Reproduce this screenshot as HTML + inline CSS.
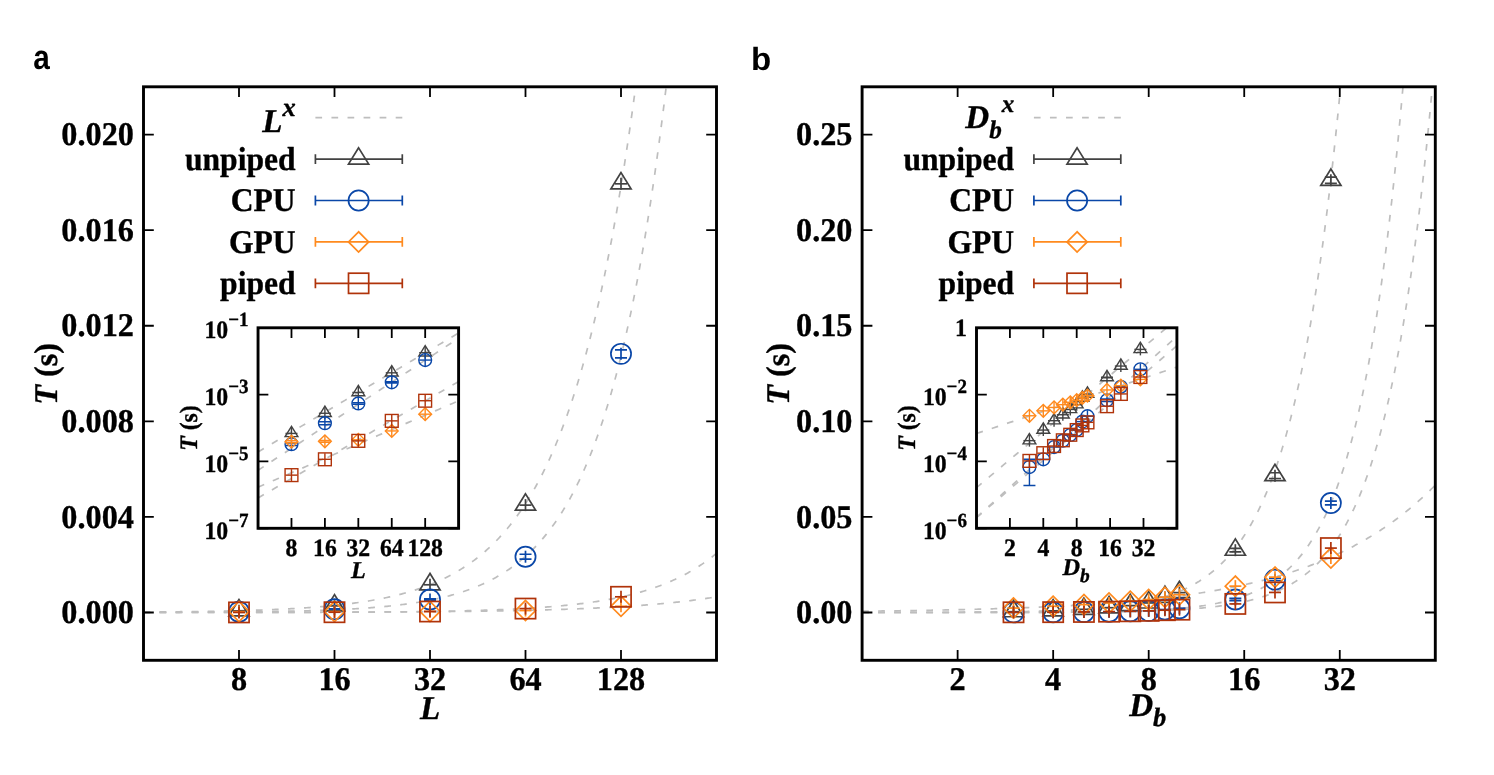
<!DOCTYPE html>
<html><head><meta charset="utf-8"><title>figure</title>
<style>html,body{margin:0;padding:0;background:#fff;overflow:hidden;}svg{display:block;will-change:transform;text-rendering:geometricPrecision;}text{font-family:"Liberation Serif",serif;}</style></head>
<body>

<svg width="1494" height="775" viewBox="0 0 1494 775">
<rect width="1494" height="775" fill="#fff"/>

<clipPath id="c0"><rect x="143.5" y="86.8" width="573" height="573.5"/></clipPath>
<g font-family='"Liberation Serif", serif' font-weight="bold" fill="#000" stroke="#000" stroke-width="0.35" stroke-linejoin="round">
<text transform="translate(133.9 623.21) scale(0.9750 1)" font-size="33.1" text-anchor="end"  >0.000</text>
<text transform="translate(133.9 527.62) scale(0.9750 1)" font-size="33.1" text-anchor="end"  >0.004</text>
<text transform="translate(133.9 432.04) scale(0.9750 1)" font-size="33.1" text-anchor="end"  >0.008</text>
<text transform="translate(133.9 336.46) scale(0.9750 1)" font-size="33.1" text-anchor="end"  >0.012</text>
<text transform="translate(133.9 240.87) scale(0.9750 1)" font-size="33.1" text-anchor="end"  >0.016</text>
<text transform="translate(133.9 145.29) scale(0.9750 1)" font-size="33.1" text-anchor="end"  >0.020</text>
<text transform="translate(239 689.8) scale(0.9750 1)" font-size="33.1" text-anchor="middle"  >8</text>
<text transform="translate(334.5 689.8) scale(0.9750 1)" font-size="33.1" text-anchor="middle"  >16</text>
<text transform="translate(430 689.8) scale(0.9750 1)" font-size="33.1" text-anchor="middle"  >32</text>
<text transform="translate(525.5 689.8) scale(0.9750 1)" font-size="33.1" text-anchor="middle"  >64</text>
<text transform="translate(621 689.8) scale(0.9750 1)" font-size="33.1" text-anchor="middle"  >128</text>
<text transform="translate(430 719.3) scale(1.0000 1)" font-size="33.1" text-anchor="middle" font-style="italic" >L</text>
<text transform="translate(57.2 373.95) rotate(-90) scale(0.9750 1)" font-size="33.1" text-anchor="middle"  ><tspan font-style="italic">T</tspan> (s)</text>
</g>
<text transform="translate(33.2 69.3) scale(0.87 1)" style="font-family:'Liberation Sans',sans-serif;font-weight:bold" font-size="34.2">a</text>
<g stroke="#bebebe" stroke-width="1.7" fill="none" stroke-dasharray="6.7 9.36"><path d="M143.5 612.05 L144.93 612.04 L146.37 612.03 L147.8 612.02 L149.23 612.01 L150.66 612 L152.09 611.99 L153.53 611.97 L154.96 611.96 L156.39 611.95 L157.82 611.94 L159.26 611.93 L160.69 611.92 L162.12 611.91 L163.56 611.89 L164.99 611.88 L166.42 611.87 L167.85 611.85 L169.28 611.84 L170.72 611.83 L172.15 611.81 L173.58 611.8 L175.02 611.78 L176.45 611.77 L177.88 611.75 L179.31 611.74 L180.75 611.72 L182.18 611.7 L183.61 611.69 L185.04 611.67 L186.47 611.65 L187.91 611.64 L189.34 611.62 L190.77 611.6 L192.2 611.58 L193.64 611.56 L195.07 611.54 L196.5 611.52 L197.94 611.5 L199.37 611.48 L200.8 611.46 L202.23 611.44 L203.66 611.42 L205.1 611.39 L206.53 611.37 L207.96 611.35 L209.39 611.32 L210.83 611.3 L212.26 611.27 L213.69 611.25 L215.12 611.22 L216.56 611.19 L217.99 611.17 L219.42 611.14 L220.86 611.11 L222.29 611.08 L223.72 611.05 L225.15 611.02 L226.59 610.99 L228.02 610.96 L229.45 610.93 L230.88 610.9 L232.31 610.86 L233.75 610.83 L235.18 610.79 L236.61 610.76 L238.05 610.72 L239.48 610.69 L240.91 610.65 L242.34 610.61 L243.77 610.57 L245.21 610.53 L246.64 610.49 L248.07 610.45 L249.5 610.4 L250.94 610.36 L252.37 610.32 L253.8 610.27 L255.23 610.22 L256.67 610.18 L258.1 610.13 L259.53 610.08 L260.96 610.03 L262.4 609.98 L263.83 609.93 L265.26 609.87 L266.69 609.82 L268.13 609.76 L269.56 609.71 L270.99 609.65 L272.43 609.59 L273.86 609.53 L275.29 609.47 L276.72 609.4 L278.15 609.34 L279.59 609.27 L281.02 609.21 L282.45 609.14 L283.88 609.07 L285.32 609 L286.75 608.92 L288.18 608.85 L289.62 608.78 L291.05 608.7 L292.48 608.62 L293.91 608.54 L295.35 608.46 L296.78 608.37 L298.21 608.29 L299.64 608.2 L301.07 608.11 L302.51 608.02 L303.94 607.93 L305.37 607.83 L306.8 607.73 L308.24 607.64 L309.67 607.54 L311.1 607.43 L312.53 607.33 L313.97 607.22 L315.4 607.11 L316.83 607 L318.26 606.88 L319.7 606.77 L321.13 606.65 L322.56 606.53 L324 606.4 L325.43 606.28 L326.86 606.15 L328.29 606.02 L329.73 605.88 L331.16 605.75 L332.59 605.61 L334.02 605.46 L335.45 605.32 L336.89 605.17 L338.32 605.02 L339.75 604.86 L341.18 604.7 L342.62 604.54 L344.05 604.38 L345.48 604.21 L346.91 604.04 L348.35 603.86 L349.78 603.68 L351.21 603.5 L352.65 603.31 L354.08 603.12 L355.51 602.93 L356.94 602.73 L358.38 602.53 L359.81 602.32 L361.24 602.11 L362.67 601.9 L364.11 601.68 L365.54 601.45 L366.97 601.22 L368.4 600.99 L369.84 600.75 L371.27 600.51 L372.7 600.26 L374.13 600.01 L375.57 599.75 L377 599.49 L378.43 599.22 L379.86 598.94 L381.3 598.66 L382.73 598.37 L384.16 598.08 L385.59 597.78 L387.02 597.48 L388.46 597.17 L389.89 596.85 L391.32 596.53 L392.75 596.19 L394.19 595.86 L395.62 595.51 L397.05 595.16 L398.49 594.8 L399.92 594.44 L401.35 594.06 L402.78 593.68 L404.22 593.29 L405.65 592.89 L407.08 592.49 L408.51 592.07 L409.94 591.65 L411.38 591.22 L412.81 590.78 L414.24 590.33 L415.67 589.87 L417.11 589.4 L418.54 588.92 L419.97 588.43 L421.41 587.93 L422.84 587.43 L424.27 586.91 L425.7 586.38 L427.13 585.84 L428.57 585.28 L430 584.72 L431.43 584.15 L432.87 583.56 L434.3 582.96 L435.73 582.35 L437.16 581.73 L438.6 581.09 L440.03 580.44 L441.46 579.77 L442.89 579.1 L444.32 578.41 L445.76 577.7 L447.19 576.98 L448.62 576.24 L450.06 575.49 L451.49 574.73 L452.92 573.95 L454.35 573.15 L455.79 572.33 L457.22 571.5 L458.65 570.65 L460.08 569.79 L461.52 568.9 L462.95 568 L464.38 567.08 L465.81 566.14 L467.24 565.18 L468.68 564.2 L470.11 563.2 L471.54 562.18 L472.97 561.14 L474.41 560.08 L475.84 558.99 L477.27 557.88 L478.7 556.75 L480.14 555.6 L481.57 554.42 L483 553.22 L484.43 551.99 L485.87 550.74 L487.3 549.46 L488.73 548.16 L490.16 546.83 L491.6 545.47 L493.03 544.08 L494.46 542.66 L495.89 541.22 L497.33 539.74 L498.76 538.24 L500.19 536.7 L501.62 535.13 L503.06 533.53 L504.49 531.9 L505.92 530.23 L507.35 528.53 L508.79 526.79 L510.22 525.01 L511.65 523.2 L513.09 521.35 L514.52 519.47 L515.95 517.54 L517.38 515.58 L518.81 513.57 L520.25 511.52 L521.68 509.44 L523.11 507.3 L524.55 505.12 L525.98 502.9 L527.41 500.63 L528.84 498.32 L530.28 495.96 L531.71 493.54 L533.14 491.08 L534.57 488.57 L536.01 486.01 L537.44 483.39 L538.87 480.72 L540.3 477.99 L541.73 475.2 L543.17 472.36 L544.6 469.46 L546.03 466.5 L547.46 463.48 L548.9 460.4 L550.33 457.25 L551.76 454.04 L553.19 450.76 L554.63 447.41 L556.06 443.99 L557.49 440.51 L558.92 436.95 L560.36 433.31 L561.79 429.61 L563.22 425.82 L564.65 421.96 L566.09 418.02 L567.52 413.99 L568.95 409.88 L570.38 405.69 L571.82 401.41 L573.25 397.04 L574.68 392.58 L576.12 388.03 L577.55 383.39 L578.98 378.64 L580.41 373.8 L581.85 368.87 L583.28 363.82 L584.71 358.68 L586.14 353.42 L587.58 348.06 L589.01 342.59 L590.44 337 L591.87 331.3 L593.31 325.48 L594.74 319.54 L596.17 313.48 L597.6 307.29 L599.04 300.98 L600.47 294.53 L601.9 287.95 L603.33 281.24 L604.77 274.38 L606.2 267.38 L607.63 260.24 L609.06 252.95 L610.49 245.51 L611.93 237.92 L613.36 230.16 L614.79 222.25 L616.23 214.18 L617.66 205.93 L619.09 197.52 L620.52 188.93 L621.95 180.17 L623.39 171.22 L624.82 162.09 L626.25 152.77 L627.68 143.25 L629.12 133.54 L630.55 123.63 L631.98 113.52 L633.41 103.19 L634.85 92.65 L636.28 81.89 L637.71 70.91 L639.14 59.7 L640.58 48.26 L642.01 36.59" clip-path="url(#c0)"/><path d="M143.5 612.38 L144.93 612.38 L146.37 612.37 L147.8 612.37 L149.23 612.37 L150.66 612.36 L152.09 612.36 L153.53 612.36 L154.96 612.35 L156.39 612.35 L157.82 612.35 L159.26 612.34 L160.69 612.34 L162.12 612.33 L163.56 612.33 L164.99 612.33 L166.42 612.32 L167.85 612.32 L169.28 612.31 L170.72 612.31 L172.15 612.3 L173.58 612.3 L175.02 612.29 L176.45 612.29 L177.88 612.28 L179.31 612.28 L180.75 612.27 L182.18 612.27 L183.61 612.26 L185.04 612.26 L186.47 612.25 L187.91 612.25 L189.34 612.24 L190.77 612.23 L192.2 612.23 L193.64 612.22 L195.07 612.21 L196.5 612.21 L197.94 612.2 L199.37 612.19 L200.8 612.19 L202.23 612.18 L203.66 612.17 L205.1 612.16 L206.53 612.16 L207.96 612.15 L209.39 612.14 L210.83 612.13 L212.26 612.12 L213.69 612.11 L215.12 612.1 L216.56 612.09 L217.99 612.08 L219.42 612.08 L220.86 612.07 L222.29 612.05 L223.72 612.04 L225.15 612.03 L226.59 612.02 L228.02 612.01 L229.45 612 L230.88 611.99 L232.31 611.98 L233.75 611.96 L235.18 611.95 L236.61 611.94 L238.05 611.93 L239.48 611.91 L240.91 611.9 L242.34 611.88 L243.77 611.87 L245.21 611.86 L246.64 611.84 L248.07 611.83 L249.5 611.81 L250.94 611.79 L252.37 611.78 L253.8 611.76 L255.23 611.74 L256.67 611.73 L258.1 611.71 L259.53 611.69 L260.96 611.67 L262.4 611.65 L263.83 611.63 L265.26 611.61 L266.69 611.59 L268.13 611.57 L269.56 611.55 L270.99 611.52 L272.43 611.5 L273.86 611.48 L275.29 611.46 L276.72 611.43 L278.15 611.41 L279.59 611.38 L281.02 611.35 L282.45 611.33 L283.88 611.3 L285.32 611.27 L286.75 611.24 L288.18 611.22 L289.62 611.19 L291.05 611.16 L292.48 611.12 L293.91 611.09 L295.35 611.06 L296.78 611.03 L298.21 610.99 L299.64 610.96 L301.07 610.92 L302.51 610.89 L303.94 610.85 L305.37 610.81 L306.8 610.77 L308.24 610.73 L309.67 610.69 L311.1 610.65 L312.53 610.6 L313.97 610.56 L315.4 610.52 L316.83 610.47 L318.26 610.42 L319.7 610.38 L321.13 610.33 L322.56 610.28 L324 610.22 L325.43 610.17 L326.86 610.12 L328.29 610.06 L329.73 610.01 L331.16 609.95 L332.59 609.89 L334.02 609.83 L335.45 609.77 L336.89 609.71 L338.32 609.64 L339.75 609.57 L341.18 609.51 L342.62 609.44 L344.05 609.37 L345.48 609.29 L346.91 609.22 L348.35 609.15 L349.78 609.07 L351.21 608.99 L352.65 608.91 L354.08 608.82 L355.51 608.74 L356.94 608.65 L358.38 608.56 L359.81 608.47 L361.24 608.38 L362.67 608.29 L364.11 608.19 L365.54 608.09 L366.97 607.99 L368.4 607.88 L369.84 607.78 L371.27 607.67 L372.7 607.56 L374.13 607.44 L375.57 607.32 L377 607.21 L378.43 607.08 L379.86 606.96 L381.3 606.83 L382.73 606.7 L384.16 606.57 L385.59 606.43 L387.02 606.29 L388.46 606.15 L389.89 606 L391.32 605.85 L392.75 605.7 L394.19 605.54 L395.62 605.38 L397.05 605.21 L398.49 605.05 L399.92 604.87 L401.35 604.7 L402.78 604.52 L404.22 604.33 L405.65 604.15 L407.08 603.95 L408.51 603.76 L409.94 603.56 L411.38 603.35 L412.81 603.14 L414.24 602.92 L415.67 602.7 L417.11 602.48 L418.54 602.24 L419.97 602.01 L421.41 601.77 L422.84 601.52 L424.27 601.27 L425.7 601.01 L427.13 600.74 L428.57 600.47 L430 600.19 L431.43 599.91 L432.87 599.62 L434.3 599.32 L435.73 599.02 L437.16 598.71 L438.6 598.39 L440.03 598.07 L441.46 597.73 L442.89 597.39 L444.32 597.05 L445.76 596.69 L447.19 596.32 L448.62 595.95 L450.06 595.57 L451.49 595.18 L452.92 594.78 L454.35 594.37 L455.79 593.96 L457.22 593.53 L458.65 593.09 L460.08 592.64 L461.52 592.19 L462.95 591.72 L464.38 591.24 L465.81 590.75 L467.24 590.25 L468.68 589.74 L470.11 589.21 L471.54 588.68 L472.97 588.13 L474.41 587.56 L475.84 586.99 L477.27 586.4 L478.7 585.8 L480.14 585.19 L481.57 584.56 L483 583.91 L484.43 583.25 L485.87 582.58 L487.3 581.89 L488.73 581.19 L490.16 580.46 L491.6 579.73 L493.03 578.97 L494.46 578.2 L495.89 577.41 L497.33 576.6 L498.76 575.77 L500.19 574.93 L501.62 574.06 L503.06 573.18 L504.49 572.27 L505.92 571.34 L507.35 570.4 L508.79 569.43 L510.22 568.43 L511.65 567.42 L513.09 566.38 L514.52 565.32 L515.95 564.23 L517.38 563.12 L518.81 561.98 L520.25 560.82 L521.68 559.63 L523.11 558.41 L524.55 557.16 L525.98 555.89 L527.41 554.59 L528.84 553.25 L530.28 551.89 L531.71 550.49 L533.14 549.06 L534.57 547.6 L536.01 546.11 L537.44 544.58 L538.87 543.01 L540.3 541.41 L541.73 539.77 L543.17 538.1 L544.6 536.39 L546.03 534.63 L547.46 532.84 L548.9 531 L550.33 529.13 L551.76 527.21 L553.19 525.24 L554.63 523.23 L556.06 521.18 L557.49 519.07 L558.92 516.92 L560.36 514.72 L561.79 512.47 L563.22 510.16 L564.65 507.81 L566.09 505.39 L567.52 502.93 L568.95 500.4 L570.38 497.82 L571.82 495.18 L573.25 492.48 L574.68 489.71 L576.12 486.89 L577.55 483.99 L578.98 481.03 L580.41 478 L581.85 474.91 L583.28 471.74 L584.71 468.5 L586.14 465.18 L587.58 461.79 L589.01 458.31 L590.44 454.76 L591.87 451.13 L593.31 447.41 L594.74 443.61 L596.17 439.72 L597.6 435.74 L599.04 431.67 L600.47 427.5 L601.9 423.24 L603.33 418.89 L604.77 414.43 L606.2 409.86 L607.63 405.2 L609.06 400.42 L610.49 395.54 L611.93 390.54 L613.36 385.43 L614.79 380.2 L616.23 374.85 L617.66 369.37 L619.09 363.77 L620.52 358.05 L621.95 352.19 L623.39 346.19 L624.82 340.06 L626.25 333.78 L627.68 327.36 L629.12 320.79 L630.55 314.08 L631.98 307.2 L633.41 300.17 L634.85 292.98 L636.28 285.62 L637.71 278.09 L639.14 270.39 L640.58 262.51 L642.01 254.45 L643.44 246.2 L644.88 237.77 L646.31 229.13 L647.74 220.3 L649.17 211.27 L650.61 202.03 L652.04 192.58 L653.47 182.91 L654.9 173.01 L656.34 162.89 L657.77 152.53 L659.2 141.94 L660.63 131.1 L662.07 120.02 L663.5 108.67 L664.93 97.07 L666.36 85.2 L667.8 73.05 L669.23 60.63 L670.66 47.92 L672.09 34.92" clip-path="url(#c0)"/><path d="M143.5 612.49 L144.93 612.49 L146.37 612.49 L147.8 612.49 L149.23 612.49 L150.66 612.49 L152.09 612.49 L153.53 612.49 L154.96 612.49 L156.39 612.49 L157.82 612.48 L159.26 612.48 L160.69 612.48 L162.12 612.48 L163.56 612.48 L164.99 612.48 L166.42 612.48 L167.85 612.48 L169.28 612.48 L170.72 612.48 L172.15 612.48 L173.58 612.48 L175.02 612.48 L176.45 612.48 L177.88 612.48 L179.31 612.48 L180.75 612.48 L182.18 612.48 L183.61 612.47 L185.04 612.47 L186.47 612.47 L187.91 612.47 L189.34 612.47 L190.77 612.47 L192.2 612.47 L193.64 612.47 L195.07 612.47 L196.5 612.47 L197.94 612.47 L199.37 612.47 L200.8 612.47 L202.23 612.46 L203.66 612.46 L205.1 612.46 L206.53 612.46 L207.96 612.46 L209.39 612.46 L210.83 612.46 L212.26 612.46 L213.69 612.46 L215.12 612.46 L216.56 612.45 L217.99 612.45 L219.42 612.45 L220.86 612.45 L222.29 612.45 L223.72 612.45 L225.15 612.45 L226.59 612.45 L228.02 612.45 L229.45 612.44 L230.88 612.44 L232.31 612.44 L233.75 612.44 L235.18 612.44 L236.61 612.44 L238.05 612.44 L239.48 612.43 L240.91 612.43 L242.34 612.43 L243.77 612.43 L245.21 612.43 L246.64 612.43 L248.07 612.42 L249.5 612.42 L250.94 612.42 L252.37 612.42 L253.8 612.42 L255.23 612.42 L256.67 612.41 L258.1 612.41 L259.53 612.41 L260.96 612.41 L262.4 612.41 L263.83 612.4 L265.26 612.4 L266.69 612.4 L268.13 612.4 L269.56 612.4 L270.99 612.39 L272.43 612.39 L273.86 612.39 L275.29 612.39 L276.72 612.38 L278.15 612.38 L279.59 612.38 L281.02 612.38 L282.45 612.37 L283.88 612.37 L285.32 612.37 L286.75 612.36 L288.18 612.36 L289.62 612.36 L291.05 612.36 L292.48 612.35 L293.91 612.35 L295.35 612.35 L296.78 612.34 L298.21 612.34 L299.64 612.34 L301.07 612.33 L302.51 612.33 L303.94 612.33 L305.37 612.32 L306.8 612.32 L308.24 612.31 L309.67 612.31 L311.1 612.31 L312.53 612.3 L313.97 612.3 L315.4 612.29 L316.83 612.29 L318.26 612.28 L319.7 612.28 L321.13 612.28 L322.56 612.27 L324 612.27 L325.43 612.26 L326.86 612.26 L328.29 612.25 L329.73 612.25 L331.16 612.24 L332.59 612.24 L334.02 612.23 L335.45 612.22 L336.89 612.22 L338.32 612.21 L339.75 612.21 L341.18 612.2 L342.62 612.19 L344.05 612.19 L345.48 612.18 L346.91 612.17 L348.35 612.17 L349.78 612.16 L351.21 612.15 L352.65 612.15 L354.08 612.14 L355.51 612.13 L356.94 612.12 L358.38 612.12 L359.81 612.11 L361.24 612.1 L362.67 612.09 L364.11 612.08 L365.54 612.07 L366.97 612.07 L368.4 612.06 L369.84 612.05 L371.27 612.04 L372.7 612.03 L374.13 612.02 L375.57 612.01 L377 612 L378.43 611.99 L379.86 611.98 L381.3 611.97 L382.73 611.96 L384.16 611.95 L385.59 611.93 L387.02 611.92 L388.46 611.91 L389.89 611.9 L391.32 611.89 L392.75 611.87 L394.19 611.86 L395.62 611.85 L397.05 611.83 L398.49 611.82 L399.92 611.81 L401.35 611.79 L402.78 611.78 L404.22 611.76 L405.65 611.75 L407.08 611.73 L408.51 611.72 L409.94 611.7 L411.38 611.68 L412.81 611.67 L414.24 611.65 L415.67 611.63 L417.11 611.62 L418.54 611.6 L419.97 611.58 L421.41 611.56 L422.84 611.54 L424.27 611.52 L425.7 611.5 L427.13 611.48 L428.57 611.46 L430 611.44 L431.43 611.42 L432.87 611.4 L434.3 611.37 L435.73 611.35 L437.16 611.33 L438.6 611.3 L440.03 611.28 L441.46 611.25 L442.89 611.23 L444.32 611.2 L445.76 611.17 L447.19 611.15 L448.62 611.12 L450.06 611.09 L451.49 611.06 L452.92 611.03 L454.35 611 L455.79 610.97 L457.22 610.94 L458.65 610.91 L460.08 610.88 L461.52 610.85 L462.95 610.81 L464.38 610.78 L465.81 610.74 L467.24 610.71 L468.68 610.67 L470.11 610.63 L471.54 610.59 L472.97 610.56 L474.41 610.52 L475.84 610.48 L477.27 610.43 L478.7 610.39 L480.14 610.35 L481.57 610.31 L483 610.26 L484.43 610.22 L485.87 610.17 L487.3 610.12 L488.73 610.07 L490.16 610.02 L491.6 609.97 L493.03 609.92 L494.46 609.87 L495.89 609.82 L497.33 609.76 L498.76 609.71 L500.19 609.65 L501.62 609.59 L503.06 609.53 L504.49 609.47 L505.92 609.41 L507.35 609.35 L508.79 609.28 L510.22 609.22 L511.65 609.15 L513.09 609.08 L514.52 609.01 L515.95 608.94 L517.38 608.87 L518.81 608.8 L520.25 608.72 L521.68 608.65 L523.11 608.57 L524.55 608.49 L525.98 608.41 L527.41 608.32 L528.84 608.24 L530.28 608.15 L531.71 608.06 L533.14 607.97 L534.57 607.88 L536.01 607.79 L537.44 607.69 L538.87 607.59 L540.3 607.49 L541.73 607.39 L543.17 607.29 L544.6 607.18 L546.03 607.08 L547.46 606.97 L548.9 606.85 L550.33 606.74 L551.76 606.62 L553.19 606.5 L554.63 606.38 L556.06 606.26 L557.49 606.13 L558.92 606 L560.36 605.87 L561.79 605.73 L563.22 605.6 L564.65 605.46 L566.09 605.31 L567.52 605.17 L568.95 605.02 L570.38 604.87 L571.82 604.71 L573.25 604.55 L574.68 604.39 L576.12 604.23 L577.55 604.06 L578.98 603.89 L580.41 603.71 L581.85 603.54 L583.28 603.35 L584.71 603.17 L586.14 602.98 L587.58 602.79 L589.01 602.59 L590.44 602.39 L591.87 602.18 L593.31 601.97 L594.74 601.76 L596.17 601.54 L597.6 601.32 L599.04 601.09 L600.47 600.86 L601.9 600.63 L603.33 600.39 L604.77 600.14 L606.2 599.89 L607.63 599.63 L609.06 599.37 L610.49 599.11 L611.93 598.83 L613.36 598.56 L614.79 598.27 L616.23 597.99 L617.66 597.69 L619.09 597.39 L620.52 597.08 L621.95 596.77 L623.39 596.45 L624.82 596.13 L626.25 595.8 L627.68 595.46 L629.12 595.11 L630.55 594.76 L631.98 594.4 L633.41 594.03 L634.85 593.66 L636.28 593.28 L637.71 592.89 L639.14 592.49 L640.58 592.08 L642.01 591.67 L643.44 591.25 L644.88 590.81 L646.31 590.37 L647.74 589.93 L649.17 589.47 L650.61 589 L652.04 588.52 L653.47 588.04 L654.9 587.54 L656.34 587.04 L657.77 586.52 L659.2 585.99 L660.63 585.46 L662.07 584.91 L663.5 584.35 L664.93 583.78 L666.36 583.2 L667.8 582.6 L669.23 581.99 L670.66 581.38 L672.09 580.75 L673.52 580.1 L674.96 579.44 L676.39 578.77 L677.82 578.09 L679.25 577.39 L680.69 576.68 L682.12 575.96 L683.55 575.21 L684.99 574.46 L686.42 573.69 L687.85 572.9 L689.28 572.1 L690.72 571.28 L692.15 570.44 L693.58 569.59 L695.01 568.72 L696.44 567.83 L697.88 566.93 L699.31 566 L700.74 565.06 L702.17 564.1 L703.61 563.12 L705.04 562.12 L706.47 561.09 L707.9 560.05 L709.34 558.99 L710.77 557.9 L712.2 556.8 L713.63 555.67 L715.07 554.52 L716.5 553.34" clip-path="url(#c0)"/><path d="M143.5 612.47 L144.93 612.47 L146.37 612.47 L147.8 612.47 L149.23 612.47 L150.66 612.46 L152.09 612.46 L153.53 612.46 L154.96 612.46 L156.39 612.46 L157.82 612.46 L159.26 612.46 L160.69 612.46 L162.12 612.46 L163.56 612.46 L164.99 612.46 L166.42 612.46 L167.85 612.46 L169.28 612.46 L170.72 612.45 L172.15 612.45 L173.58 612.45 L175.02 612.45 L176.45 612.45 L177.88 612.45 L179.31 612.45 L180.75 612.45 L182.18 612.45 L183.61 612.45 L185.04 612.45 L186.47 612.44 L187.91 612.44 L189.34 612.44 L190.77 612.44 L192.2 612.44 L193.64 612.44 L195.07 612.44 L196.5 612.44 L197.94 612.44 L199.37 612.44 L200.8 612.43 L202.23 612.43 L203.66 612.43 L205.1 612.43 L206.53 612.43 L207.96 612.43 L209.39 612.43 L210.83 612.43 L212.26 612.43 L213.69 612.42 L215.12 612.42 L216.56 612.42 L217.99 612.42 L219.42 612.42 L220.86 612.42 L222.29 612.42 L223.72 612.41 L225.15 612.41 L226.59 612.41 L228.02 612.41 L229.45 612.41 L230.88 612.41 L232.31 612.41 L233.75 612.4 L235.18 612.4 L236.61 612.4 L238.05 612.4 L239.48 612.4 L240.91 612.4 L242.34 612.39 L243.77 612.39 L245.21 612.39 L246.64 612.39 L248.07 612.39 L249.5 612.39 L250.94 612.38 L252.37 612.38 L253.8 612.38 L255.23 612.38 L256.67 612.38 L258.1 612.37 L259.53 612.37 L260.96 612.37 L262.4 612.37 L263.83 612.37 L265.26 612.36 L266.69 612.36 L268.13 612.36 L269.56 612.36 L270.99 612.36 L272.43 612.35 L273.86 612.35 L275.29 612.35 L276.72 612.35 L278.15 612.34 L279.59 612.34 L281.02 612.34 L282.45 612.34 L283.88 612.33 L285.32 612.33 L286.75 612.33 L288.18 612.33 L289.62 612.32 L291.05 612.32 L292.48 612.32 L293.91 612.31 L295.35 612.31 L296.78 612.31 L298.21 612.31 L299.64 612.3 L301.07 612.3 L302.51 612.3 L303.94 612.29 L305.37 612.29 L306.8 612.29 L308.24 612.28 L309.67 612.28 L311.1 612.28 L312.53 612.27 L313.97 612.27 L315.4 612.27 L316.83 612.26 L318.26 612.26 L319.7 612.25 L321.13 612.25 L322.56 612.25 L324 612.24 L325.43 612.24 L326.86 612.24 L328.29 612.23 L329.73 612.23 L331.16 612.22 L332.59 612.22 L334.02 612.21 L335.45 612.21 L336.89 612.21 L338.32 612.2 L339.75 612.2 L341.18 612.19 L342.62 612.19 L344.05 612.18 L345.48 612.18 L346.91 612.17 L348.35 612.17 L349.78 612.16 L351.21 612.16 L352.65 612.15 L354.08 612.15 L355.51 612.14 L356.94 612.14 L358.38 612.13 L359.81 612.12 L361.24 612.12 L362.67 612.11 L364.11 612.11 L365.54 612.1 L366.97 612.09 L368.4 612.09 L369.84 612.08 L371.27 612.08 L372.7 612.07 L374.13 612.06 L375.57 612.06 L377 612.05 L378.43 612.04 L379.86 612.03 L381.3 612.03 L382.73 612.02 L384.16 612.01 L385.59 612.01 L387.02 612 L388.46 611.99 L389.89 611.98 L391.32 611.97 L392.75 611.97 L394.19 611.96 L395.62 611.95 L397.05 611.94 L398.49 611.93 L399.92 611.93 L401.35 611.92 L402.78 611.91 L404.22 611.9 L405.65 611.89 L407.08 611.88 L408.51 611.87 L409.94 611.86 L411.38 611.85 L412.81 611.84 L414.24 611.83 L415.67 611.82 L417.11 611.81 L418.54 611.8 L419.97 611.79 L421.41 611.78 L422.84 611.77 L424.27 611.76 L425.7 611.75 L427.13 611.73 L428.57 611.72 L430 611.71 L431.43 611.7 L432.87 611.69 L434.3 611.67 L435.73 611.66 L437.16 611.65 L438.6 611.64 L440.03 611.62 L441.46 611.61 L442.89 611.6 L444.32 611.58 L445.76 611.57 L447.19 611.56 L448.62 611.54 L450.06 611.53 L451.49 611.51 L452.92 611.5 L454.35 611.48 L455.79 611.47 L457.22 611.45 L458.65 611.43 L460.08 611.42 L461.52 611.4 L462.95 611.39 L464.38 611.37 L465.81 611.35 L467.24 611.33 L468.68 611.32 L470.11 611.3 L471.54 611.28 L472.97 611.26 L474.41 611.24 L475.84 611.22 L477.27 611.21 L478.7 611.19 L480.14 611.17 L481.57 611.15 L483 611.13 L484.43 611.11 L485.87 611.08 L487.3 611.06 L488.73 611.04 L490.16 611.02 L491.6 611 L493.03 610.97 L494.46 610.95 L495.89 610.93 L497.33 610.9 L498.76 610.88 L500.19 610.86 L501.62 610.83 L503.06 610.81 L504.49 610.78 L505.92 610.75 L507.35 610.73 L508.79 610.7 L510.22 610.67 L511.65 610.65 L513.09 610.62 L514.52 610.59 L515.95 610.56 L517.38 610.53 L518.81 610.5 L520.25 610.47 L521.68 610.44 L523.11 610.41 L524.55 610.38 L525.98 610.35 L527.41 610.32 L528.84 610.28 L530.28 610.25 L531.71 610.22 L533.14 610.18 L534.57 610.15 L536.01 610.11 L537.44 610.07 L538.87 610.04 L540.3 610 L541.73 609.96 L543.17 609.93 L544.6 609.89 L546.03 609.85 L547.46 609.81 L548.9 609.77 L550.33 609.73 L551.76 609.68 L553.19 609.64 L554.63 609.6 L556.06 609.56 L557.49 609.51 L558.92 609.47 L560.36 609.42 L561.79 609.37 L563.22 609.33 L564.65 609.28 L566.09 609.23 L567.52 609.18 L568.95 609.13 L570.38 609.08 L571.82 609.03 L573.25 608.98 L574.68 608.93 L576.12 608.87 L577.55 608.82 L578.98 608.76 L580.41 608.71 L581.85 608.65 L583.28 608.59 L584.71 608.53 L586.14 608.47 L587.58 608.41 L589.01 608.35 L590.44 608.29 L591.87 608.23 L593.31 608.16 L594.74 608.1 L596.17 608.03 L597.6 607.96 L599.04 607.89 L600.47 607.83 L601.9 607.76 L603.33 607.68 L604.77 607.61 L606.2 607.54 L607.63 607.46 L609.06 607.39 L610.49 607.31 L611.93 607.23 L613.36 607.15 L614.79 607.07 L616.23 606.99 L617.66 606.91 L619.09 606.83 L620.52 606.74 L621.95 606.65 L623.39 606.57 L624.82 606.48 L626.25 606.39 L627.68 606.3 L629.12 606.2 L630.55 606.11 L631.98 606.01 L633.41 605.91 L634.85 605.82 L636.28 605.72 L637.71 605.61 L639.14 605.51 L640.58 605.41 L642.01 605.3 L643.44 605.19 L644.88 605.08 L646.31 604.97 L647.74 604.86 L649.17 604.74 L650.61 604.63 L652.04 604.51 L653.47 604.39 L654.9 604.27 L656.34 604.14 L657.77 604.02 L659.2 603.89 L660.63 603.76 L662.07 603.63 L663.5 603.5 L664.93 603.36 L666.36 603.22 L667.8 603.08 L669.23 602.94 L670.66 602.8 L672.09 602.65 L673.52 602.51 L674.96 602.36 L676.39 602.2 L677.82 602.05 L679.25 601.89 L680.69 601.73 L682.12 601.57 L683.55 601.41 L684.99 601.24 L686.42 601.07 L687.85 600.9 L689.28 600.73 L690.72 600.55 L692.15 600.37 L693.58 600.19 L695.01 600.01 L696.44 599.82 L697.88 599.63 L699.31 599.44 L700.74 599.24 L702.17 599.04 L703.61 598.84 L705.04 598.63 L706.47 598.43 L707.9 598.21 L709.34 598 L710.77 597.78 L712.2 597.56 L713.63 597.34 L715.07 597.11 L716.5 596.88" clip-path="url(#c0)"/></g>
<g stroke="#424242" stroke-width="1.7" fill="none"><path d="M239 599.55 L228.9 615.91 L249.1 615.91 Z"/><path d="M239 604.86 V616.86"/><path d="M233 610.86 H245"/></g><g stroke="#424242" stroke-width="1.7" fill="none"><path d="M334.5 594.58 L324.4 610.94 L344.6 610.94 Z"/><path d="M334.5 599.89 V611.89"/><path d="M328.5 605.89 H340.5"/></g><g stroke="#424242" stroke-width="1.7" fill="none"><path d="M430 573.48 L419.9 589.84 L440.1 589.84 Z"/><path d="M430 578.79 V590.79"/><path d="M424 584.79 H436"/></g><g stroke="#424242" stroke-width="1.7" fill="none"><path d="M525.5 493.81 L515.4 510.17 L535.6 510.17 Z"/><path d="M525.5 499.12 V511.12"/><path d="M519.5 505.12 H531.5"/></g><g stroke="#424242" stroke-width="1.7" fill="none"><path d="M621 172.51 L610.9 188.87 L631.1 188.87 Z"/><path d="M621 177.82 V189.82"/><path d="M615 183.82 H627"/></g><g stroke="#0a47a8" stroke-width="1.7" fill="none"><circle cx="239" cy="611.72" r="10.1"/><path d="M239 605.72 V617.72"/><path d="M233 611.72 H245"/></g><g stroke="#0a47a8" stroke-width="1.7" fill="none"><circle cx="334.5" cy="609.16" r="10.1"/><path d="M334.5 603.16 V615.16"/><path d="M328.5 608.8 H340.5 M328.5 609.52 H340.5"/></g><g stroke="#0a47a8" stroke-width="1.7" fill="none"><circle cx="430" cy="599.46" r="10.1"/><path d="M430 593.46 V605.46"/><path d="M424 598.74 H436 M424 600.18 H436"/></g><g stroke="#0a47a8" stroke-width="1.7" fill="none"><circle cx="525.5" cy="556.71" r="10.1"/><path d="M525.5 550.71 V562.71"/><path d="M519.5 554.27 H531.5 M519.5 559.15 H531.5"/></g><g stroke="#0a47a8" stroke-width="1.7" fill="none"><circle cx="621" cy="353.86" r="10.1"/><path d="M621 347.86 V359.86"/><path d="M615 349.92 H627 M615 357.8 H627"/></g><g stroke="#ff8a1e" stroke-width="1.7" fill="none"><path d="M239 601.48 L228.9 611.58 L239 621.68 L249.1 611.58 Z"/><path d="M239 605.58 V617.58"/><path d="M233 611.58 H245"/></g><g stroke="#ff8a1e" stroke-width="1.7" fill="none"><path d="M334.5 601.45 L324.4 611.55 L334.5 621.65 L344.6 611.55 Z"/><path d="M334.5 605.55 V617.55"/><path d="M328.5 611.55 H340.5"/></g><g stroke="#ff8a1e" stroke-width="1.7" fill="none"><path d="M430 601.34 L419.9 611.44 L430 621.54 L440.1 611.44 Z"/><path d="M430 605.44 V617.44"/><path d="M424 611.44 H436"/></g><g stroke="#ff8a1e" stroke-width="1.7" fill="none"><path d="M525.5 600.45 L515.4 610.55 L525.5 620.65 L535.6 610.55 Z"/><path d="M525.5 604.55 V616.55"/><path d="M519.5 610.55 H531.5"/></g><g stroke="#ff8a1e" stroke-width="1.7" fill="none"><path d="M621 596.2 L610.9 606.3 L621 616.4 L631.1 606.3 Z"/><path d="M621 600.3 V612.3"/><path d="M615 606.3 H627"/></g><g stroke="#b0330a" stroke-width="1.7" fill="none"><rect x="228.9" y="602.32" width="20.2" height="20.2"/><path d="M239 606.42 V618.42"/><path d="M233 612.42 H245"/></g><g stroke="#b0330a" stroke-width="1.7" fill="none"><rect x="324.4" y="602.13" width="20.2" height="20.2"/><path d="M334.5 606.23 V618.23"/><path d="M328.5 612.23 H340.5"/></g><g stroke="#b0330a" stroke-width="1.7" fill="none"><rect x="419.9" y="601.42" width="20.2" height="20.2"/><path d="M430 605.52 V617.52"/><path d="M424 611.52 H436"/></g><g stroke="#b0330a" stroke-width="1.7" fill="none"><rect x="515.4" y="598.49" width="20.2" height="20.2"/><path d="M525.5 602.59 V614.59"/><path d="M519.5 608.59 H531.5"/></g><g stroke="#b0330a" stroke-width="1.7" fill="none"><rect x="610.9" y="586.71" width="20.2" height="20.2"/><path d="M621 590.81 V602.81"/><path d="M615 596.81 H627"/></g>
<g stroke="#000" stroke-width="1.8" fill="none" stroke-linecap="butt"><path d="M239 660.3 v-10.3 M239 86.8 v10.3"/><path d="M334.5 660.3 v-10.3 M334.5 86.8 v10.3"/><path d="M430 660.3 v-10.3 M430 86.8 v10.3"/><path d="M525.5 660.3 v-10.3 M525.5 86.8 v10.3"/><path d="M621 660.3 v-10.3 M621 86.8 v10.3"/><path d="M143.5 612.51 h10.3 M716.5 612.51 h-10.3"/><path d="M143.5 516.92 h10.3 M716.5 516.92 h-10.3"/><path d="M143.5 421.34 h10.3 M716.5 421.34 h-10.3"/><path d="M143.5 325.76 h10.3 M716.5 325.76 h-10.3"/><path d="M143.5 230.17 h10.3 M716.5 230.17 h-10.3"/><path d="M143.5 134.59 h10.3 M716.5 134.59 h-10.3"/></g><rect x="143.5" y="86.8" width="573" height="573.5" fill="none" stroke="#000" stroke-width="2.9"/>
<path d="M315.4 117.6 H402.3" stroke="#bebebe" stroke-width="1.7" stroke-dasharray="6.7 9.36" fill="none"/>
<g stroke="#424242" stroke-width="1.7" fill="none"><path d="M315.4 159.1 H402.3 M315.4 154.2 v9.8 M402.3 154.2 v9.8"/></g>
<g stroke="#424242" stroke-width="1.7" fill="none"><path d="M358.6 147.79 L348.5 164.15 L368.7 164.15 Z"/></g>
<g stroke="#0a47a8" stroke-width="1.7" fill="none"><path d="M315.4 200.5 H402.3 M315.4 195.6 v9.8 M402.3 195.6 v9.8"/></g>
<g stroke="#0a47a8" stroke-width="1.7" fill="none"><circle cx="358.6" cy="200.5" r="10.1"/></g>
<g stroke="#ff8a1e" stroke-width="1.7" fill="none"><path d="M315.4 241.9 H402.3 M315.4 237 v9.8 M402.3 237 v9.8"/></g>
<g stroke="#ff8a1e" stroke-width="1.7" fill="none"><path d="M358.6 231.8 L348.5 241.9 L358.6 252 L368.7 241.9 Z"/></g>
<g stroke="#b0330a" stroke-width="1.7" fill="none"><path d="M315.4 283.3 H402.3 M315.4 278.4 v9.8 M402.3 278.4 v9.8"/></g>
<g stroke="#b0330a" stroke-width="1.7" fill="none"><rect x="348.5" y="273.2" width="20.2" height="20.2"/></g>
<g font-family='"Liberation Serif", serif' font-weight="bold" fill="#000" stroke="#000" stroke-width="0.35" stroke-linejoin="round">
<text transform="translate(295.7 131.8) scale(1.0000 1)" font-size="33.1" text-anchor="end" font-style="italic" >L<tspan font-size="26.48" dy="-15.5">x</tspan></text>
<text transform="translate(295.6 170) scale(0.9550 1)" font-size="33.1" text-anchor="end"  >unpiped</text>
<text transform="translate(295.6 211.4) scale(0.9550 1)" font-size="33.1" text-anchor="end"  >CPU</text>
<text transform="translate(295.6 252.8) scale(0.9550 1)" font-size="33.1" text-anchor="end"  >GPU</text>
<text transform="translate(295.6 294.2) scale(0.9550 1)" font-size="33.1" text-anchor="end"  >piped</text>
</g>
<clipPath id="ci0"><rect x="258.05" y="327.8" width="200.55" height="200.5"/></clipPath>
<g font-family='"Liberation Serif", serif' font-weight="bold" fill="#000" stroke="#000" stroke-width="0.35" stroke-linejoin="round">
<text transform="translate(248.45 338.2) scale(0.9450 1)" font-size="25.1" text-anchor="end"  >10<tspan font-size="20.08" dy="-11.8">−1</tspan></text>
<text transform="translate(248.45 405.03) scale(0.9450 1)" font-size="25.1" text-anchor="end"  >10<tspan font-size="20.08" dy="-11.8">−3</tspan></text>
<text transform="translate(248.45 471.87) scale(0.9450 1)" font-size="25.1" text-anchor="end"  >10<tspan font-size="20.08" dy="-11.8">−5</tspan></text>
<text transform="translate(248.45 538.7) scale(0.9450 1)" font-size="25.1" text-anchor="end"  >10<tspan font-size="20.08" dy="-11.8">−7</tspan></text>
<text transform="translate(291.48 555.9) scale(0.9450 1)" font-size="25.1" text-anchor="middle"  >8</text>
<text transform="translate(324.9 555.9) scale(0.9450 1)" font-size="25.1" text-anchor="middle"  >16</text>
<text transform="translate(358.33 555.9) scale(0.9450 1)" font-size="25.1" text-anchor="middle"  >32</text>
<text transform="translate(391.75 555.9) scale(0.9450 1)" font-size="25.1" text-anchor="middle"  >64</text>
<text transform="translate(425.18 555.9) scale(0.9450 1)" font-size="25.1" text-anchor="middle"  >128</text>
<text transform="translate(358.33 577.8) scale(1.0000 1)" font-size="24.22" text-anchor="middle" font-style="italic" >L</text>
<text transform="translate(196.85 428.05) rotate(-90) scale(0.9450 1)" font-size="25.1" text-anchor="middle"  ><tspan font-style="italic">T</tspan> (s)</text>
</g>
<g stroke="#bebebe" stroke-width="1.7" fill="none" stroke-dasharray="6.7 9.36"><path d="M258.05 451.9 L261.39 449.91 L264.74 447.93 L268.08 445.95 L271.42 443.97 L274.76 441.99 L278.11 440 L281.45 438.02 L284.79 436.04 L288.13 434.06 L291.48 432.08 L294.82 430.1 L298.16 428.11 L301.5 426.13 L304.85 424.15 L308.19 422.17 L311.53 420.19 L314.87 418.21 L318.22 416.22 L321.56 414.24 L324.9 412.26 L328.24 410.28 L331.59 408.3 L334.93 406.32 L338.27 404.33 L341.61 402.35 L344.96 400.37 L348.3 398.39 L351.64 396.41 L354.98 394.43 L358.33 392.44 L361.67 390.46 L365.01 388.48 L368.35 386.5 L371.7 384.52 L375.04 382.54 L378.38 380.55 L381.72 378.57 L385.06 376.59 L388.41 374.61 L391.75 372.63 L395.09 370.65 L398.44 368.66 L401.78 366.68 L405.12 364.7 L408.46 362.72 L411.81 360.74 L415.15 358.76 L418.49 356.77 L421.83 354.79 L425.18 352.81 L428.52 350.83 L431.86 348.85 L435.2 346.86 L438.55 344.88 L441.89 342.9 L445.23 340.92 L448.57 338.94 L451.92 336.96 L455.26 334.97 L458.6 332.99" clip-path="url(#ci0)"/><path d="M258.05 470.34 L261.39 468.14 L264.74 465.94 L268.08 463.74 L271.42 461.53 L274.76 459.33 L278.11 457.13 L281.45 454.92 L284.79 452.72 L288.13 450.52 L291.48 448.31 L294.82 446.11 L298.16 443.91 L301.5 441.71 L304.85 439.5 L308.19 437.3 L311.53 435.1 L314.87 432.89 L318.22 430.69 L321.56 428.49 L324.9 426.28 L328.24 424.08 L331.59 421.88 L334.93 419.68 L338.27 417.47 L341.61 415.27 L344.96 413.07 L348.3 410.86 L351.64 408.66 L354.98 406.46 L358.33 404.25 L361.67 402.05 L365.01 399.85 L368.35 397.65 L371.7 395.44 L375.04 393.24 L378.38 391.04 L381.72 388.83 L385.06 386.63 L388.41 384.43 L391.75 382.22 L395.09 380.02 L398.44 377.82 L401.78 375.62 L405.12 373.41 L408.46 371.21 L411.81 369.01 L415.15 366.8 L418.49 364.6 L421.83 362.4 L425.18 360.19 L428.52 357.99 L431.86 355.79 L435.2 353.59 L438.55 351.38 L441.89 349.18 L445.23 346.98 L448.57 344.77 L451.92 342.57 L455.26 340.37 L458.6 338.16" clip-path="url(#ci0)"/><path d="M258.05 497.96 L261.39 496.02 L264.74 494.08 L268.08 492.14 L271.42 490.2 L274.76 488.26 L278.11 486.31 L281.45 484.37 L284.79 482.43 L288.13 480.49 L291.48 478.55 L294.82 476.61 L298.16 474.67 L301.5 472.72 L304.85 470.78 L308.19 468.84 L311.53 466.9 L314.87 464.96 L318.22 463.02 L321.56 461.08 L324.9 459.13 L328.24 457.19 L331.59 455.25 L334.93 453.31 L338.27 451.37 L341.61 449.43 L344.96 447.49 L348.3 445.54 L351.64 443.6 L354.98 441.66 L358.33 439.72 L361.67 437.78 L365.01 435.84 L368.35 433.89 L371.7 431.95 L375.04 430.01 L378.38 428.07 L381.72 426.13 L385.06 424.19 L388.41 422.25 L391.75 420.3 L395.09 418.36 L398.44 416.42 L401.78 414.48 L405.12 412.54 L408.46 410.6 L411.81 408.66 L415.15 406.71 L418.49 404.77 L421.83 402.83 L425.18 400.89 L428.52 398.95 L431.86 397.01 L435.2 395.07 L438.55 393.12 L441.89 391.18 L445.23 389.24 L448.57 387.3 L451.92 385.36 L455.26 383.42 L458.6 381.48" clip-path="url(#ci0)"/><path d="M258.05 487.17 L261.39 485.73 L264.74 484.29 L268.08 482.85 L271.42 481.41 L274.76 479.97 L278.11 478.53 L281.45 477.09 L284.79 475.65 L288.13 474.21 L291.48 472.77 L294.82 471.33 L298.16 469.89 L301.5 468.45 L304.85 467.01 L308.19 465.57 L311.53 464.13 L314.87 462.69 L318.22 461.25 L321.56 459.82 L324.9 458.38 L328.24 456.94 L331.59 455.5 L334.93 454.06 L338.27 452.62 L341.61 451.18 L344.96 449.74 L348.3 448.3 L351.64 446.86 L354.98 445.42 L358.33 443.98 L361.67 442.54 L365.01 441.1 L368.35 439.66 L371.7 438.22 L375.04 436.78 L378.38 435.34 L381.72 433.9 L385.06 432.46 L388.41 431.03 L391.75 429.59 L395.09 428.15 L398.44 426.71 L401.78 425.27 L405.12 423.83 L408.46 422.39 L411.81 420.95 L415.15 419.51 L418.49 418.07 L421.83 416.63 L425.18 415.19 L428.52 413.75 L431.86 412.31 L435.2 410.87 L438.55 409.43 L441.89 407.99 L445.23 406.55 L448.57 405.11 L451.92 403.67 L455.26 402.24 L458.6 400.8" clip-path="url(#ci0)"/></g>
<g stroke="#424242" stroke-width="1.4" fill="none"><path d="M291.48 426.27 L285.08 436.64 L297.88 436.64 Z"/><path d="M291.48 427.44 V439.44"/><path d="M285.48 433.44 H297.48"/></g><g stroke="#424242" stroke-width="1.4" fill="none"><path d="M324.9 406.1 L318.5 416.46 L331.3 416.46 Z"/><path d="M324.9 407.26 V419.26"/><path d="M318.9 413.26 H330.9"/></g><g stroke="#424242" stroke-width="1.4" fill="none"><path d="M358.33 385.31 L351.93 395.68 L364.73 395.68 Z"/><path d="M358.33 386.48 V398.48"/><path d="M352.33 392.48 H364.33"/></g><g stroke="#424242" stroke-width="1.4" fill="none"><path d="M391.75 365.66 L385.35 376.02 L398.15 376.02 Z"/><path d="M391.75 366.82 V378.82"/><path d="M385.75 372.82 H397.75"/></g><g stroke="#424242" stroke-width="1.4" fill="none"><path d="M425.18 345.57 L418.78 355.93 L431.58 355.93 Z"/><path d="M425.18 346.73 V358.73"/><path d="M419.18 352.73 H431.18"/></g><g stroke="#0a47a8" stroke-width="1.4" fill="none"><circle cx="291.48" cy="444.14" r="6.4"/><path d="M291.48 438.14 V450.14"/><path d="M285.48 442.96 H297.48 M285.48 445.43 H297.48"/></g><g stroke="#0a47a8" stroke-width="1.4" fill="none"><circle cx="324.9" cy="423.17" r="6.4"/><path d="M324.9 417.17 V429.17"/><path d="M318.9 421.69 H330.9 M318.9 424.81 H330.9"/></g><g stroke="#0a47a8" stroke-width="1.4" fill="none"><circle cx="358.33" cy="403.42" r="6.4"/><path d="M358.33 397.42 V409.42"/><path d="M352.33 402.64 H364.33 M352.33 404.24 H364.33"/></g><g stroke="#0a47a8" stroke-width="1.4" fill="none"><circle cx="391.75" cy="382.33" r="6.4"/><path d="M391.75 376.33 V388.33"/><path d="M385.75 381.71 H397.75 M385.75 382.97 H397.75"/></g><g stroke="#0a47a8" stroke-width="1.4" fill="none"><circle cx="425.18" cy="360.07" r="6.4"/><path d="M425.18 354.07 V366.07"/><path d="M419.18 360.07 H431.18"/></g><g stroke="#ff8a1e" stroke-width="1.4" fill="none"><path d="M291.48 435.32 L285.08 441.72 L291.48 448.12 L297.88 441.72 Z"/><path d="M291.48 435.72 V447.72"/><path d="M285.48 440.74 H297.48 M285.48 442.76 H297.48"/></g><g stroke="#ff8a1e" stroke-width="1.4" fill="none"><path d="M324.9 434.95 L318.5 441.35 L324.9 447.75 L331.3 441.35 Z"/><path d="M324.9 435.35 V447.35"/><path d="M318.9 440.5 H330.9 M318.9 442.25 H330.9"/></g><g stroke="#ff8a1e" stroke-width="1.4" fill="none"><path d="M358.33 433.37 L351.93 439.77 L358.33 446.17 L364.73 439.77 Z"/><path d="M358.33 433.77 V445.77"/><path d="M352.33 439.77 H364.33"/></g><g stroke="#ff8a1e" stroke-width="1.4" fill="none"><path d="M391.75 424.53 L385.35 430.93 L391.75 437.33 L398.15 430.93 Z"/><path d="M391.75 424.93 V436.93"/><path d="M385.75 430.93 H397.75"/></g><g stroke="#ff8a1e" stroke-width="1.4" fill="none"><path d="M425.18 407.78 L418.78 414.18 L425.18 420.58 L431.58 414.18 Z"/><path d="M425.18 408.18 V420.18"/><path d="M419.18 414.18 H431.18"/></g><g stroke="#b0330a" stroke-width="1.4" fill="none"><rect x="285.08" y="468.73" width="12.8" height="12.8"/><path d="M291.48 469.13 V481.13"/><path d="M285.48 475.13 H297.48"/></g><g stroke="#b0330a" stroke-width="1.4" fill="none"><rect x="318.5" y="452.91" width="12.8" height="12.8"/><path d="M324.9 453.31 V465.31"/><path d="M318.9 459.31 H330.9"/></g><g stroke="#b0330a" stroke-width="1.4" fill="none"><rect x="351.93" y="434.45" width="12.8" height="12.8"/><path d="M358.33 434.85 V446.85"/><path d="M352.33 440.85 H364.33"/></g><g stroke="#b0330a" stroke-width="1.4" fill="none"><rect x="385.35" y="414.47" width="12.8" height="12.8"/><path d="M391.75 414.87 V426.87"/><path d="M385.75 420.87 H397.75"/></g><g stroke="#b0330a" stroke-width="1.4" fill="none"><rect x="418.78" y="394.33" width="12.8" height="12.8"/><path d="M425.18 394.73 V406.73"/><path d="M419.18 400.73 H431.18"/></g>
<g stroke="#000" stroke-width="1.8" fill="none" stroke-linecap="butt"><path d="M291.48 528.3 v-10.3 M291.48 327.8 v10.3"/><path d="M324.9 528.3 v-10.3 M324.9 327.8 v10.3"/><path d="M358.33 528.3 v-10.3 M358.33 327.8 v10.3"/><path d="M391.75 528.3 v-10.3 M391.75 327.8 v10.3"/><path d="M425.18 528.3 v-10.3 M425.18 327.8 v10.3"/><path d="M258.05 327.8 h10.3 M458.6 327.8 h-10.3"/><path d="M258.05 394.63 h10.3 M458.6 394.63 h-10.3"/><path d="M258.05 461.47 h10.3 M458.6 461.47 h-10.3"/><path d="M258.05 528.3 h10.3 M458.6 528.3 h-10.3"/></g><rect x="258.05" y="327.8" width="200.55" height="200.5" fill="none" stroke="#000" stroke-width="2.9"/>
<clipPath id="c1"><rect x="862.1" y="86.8" width="573.2" height="573.5"/></clipPath>
<g font-family='"Liberation Serif", serif' font-weight="bold" fill="#000" stroke="#000" stroke-width="0.35" stroke-linejoin="round">
<text transform="translate(852.5 623.21) scale(0.9750 1)" font-size="33.1" text-anchor="end"  >0.00</text>
<text transform="translate(852.5 527.62) scale(0.9750 1)" font-size="33.1" text-anchor="end"  >0.05</text>
<text transform="translate(852.5 432.04) scale(0.9750 1)" font-size="33.1" text-anchor="end"  >0.10</text>
<text transform="translate(852.5 336.46) scale(0.9750 1)" font-size="33.1" text-anchor="end"  >0.15</text>
<text transform="translate(852.5 240.88) scale(0.9750 1)" font-size="33.1" text-anchor="end"  >0.20</text>
<text transform="translate(852.5 145.29) scale(0.9750 1)" font-size="33.1" text-anchor="end"  >0.25</text>
<text transform="translate(957.63 689.8) scale(0.9750 1)" font-size="33.1" text-anchor="middle"  >2</text>
<text transform="translate(1053.17 689.8) scale(0.9750 1)" font-size="33.1" text-anchor="middle"  >4</text>
<text transform="translate(1148.7 689.8) scale(0.9750 1)" font-size="33.1" text-anchor="middle"  >8</text>
<text transform="translate(1244.23 689.8) scale(0.9750 1)" font-size="33.1" text-anchor="middle"  >16</text>
<text transform="translate(1339.77 689.8) scale(0.9750 1)" font-size="33.1" text-anchor="middle"  >32</text>
<text transform="translate(1147.7 715.5) scale(1.0000 1)" font-size="33.1" text-anchor="middle" font-style="italic" >D<tspan font-size="26.48" dy="10">b</tspan></text>
<text transform="translate(788.7 373.95) rotate(-90) scale(0.9750 1)" font-size="33.1" text-anchor="middle"  ><tspan font-style="italic">T</tspan> (s)</text>
</g>
<text transform="translate(751 69.7) scale(1.03 1)" style="font-family:'Liberation Sans',sans-serif;font-weight:bold" font-size="32.1">b</text>
<g stroke="#bebebe" stroke-width="1.7" fill="none" stroke-dasharray="6.7 9.36"><path d="M862.1 612.47 L863.53 612.47 L864.97 612.47 L866.4 612.47 L867.83 612.47 L869.26 612.47 L870.7 612.46 L872.13 612.46 L873.56 612.46 L875 612.46 L876.43 612.46 L877.86 612.46 L879.3 612.46 L880.73 612.45 L882.16 612.45 L883.6 612.45 L885.03 612.45 L886.46 612.45 L887.89 612.45 L889.33 612.44 L890.76 612.44 L892.19 612.44 L893.63 612.44 L895.06 612.44 L896.49 612.43 L897.92 612.43 L899.36 612.43 L900.79 612.43 L902.22 612.42 L903.66 612.42 L905.09 612.42 L906.52 612.42 L907.96 612.41 L909.39 612.41 L910.82 612.41 L912.25 612.41 L913.69 612.4 L915.12 612.4 L916.55 612.4 L917.99 612.39 L919.42 612.39 L920.85 612.39 L922.29 612.38 L923.72 612.38 L925.15 612.38 L926.59 612.37 L928.02 612.37 L929.45 612.36 L930.88 612.36 L932.32 612.36 L933.75 612.35 L935.18 612.35 L936.62 612.34 L938.05 612.34 L939.48 612.33 L940.91 612.33 L942.35 612.32 L943.78 612.32 L945.21 612.31 L946.65 612.31 L948.08 612.3 L949.51 612.29 L950.95 612.29 L952.38 612.28 L953.81 612.27 L955.25 612.27 L956.68 612.26 L958.11 612.25 L959.54 612.25 L960.98 612.24 L962.41 612.23 L963.84 612.22 L965.28 612.21 L966.71 612.21 L968.14 612.2 L969.58 612.19 L971.01 612.18 L972.44 612.17 L973.87 612.16 L975.31 612.15 L976.74 612.14 L978.17 612.13 L979.61 612.12 L981.04 612.11 L982.47 612.09 L983.9 612.08 L985.34 612.07 L986.77 612.06 L988.2 612.04 L989.64 612.03 L991.07 612.02 L992.5 612 L993.94 611.99 L995.37 611.97 L996.8 611.96 L998.24 611.94 L999.67 611.92 L1001.1 611.91 L1002.53 611.89 L1003.97 611.87 L1005.4 611.85 L1006.83 611.83 L1008.27 611.81 L1009.7 611.79 L1011.13 611.77 L1012.57 611.75 L1014 611.73 L1015.43 611.71 L1016.86 611.68 L1018.3 611.66 L1019.73 611.64 L1021.16 611.61 L1022.6 611.59 L1024.03 611.56 L1025.46 611.53 L1026.89 611.5 L1028.33 611.47 L1029.76 611.44 L1031.19 611.41 L1032.63 611.38 L1034.06 611.35 L1035.49 611.31 L1036.93 611.28 L1038.36 611.24 L1039.79 611.21 L1041.22 611.17 L1042.66 611.13 L1044.09 611.09 L1045.52 611.05 L1046.96 611.01 L1048.39 610.96 L1049.82 610.92 L1051.26 610.87 L1052.69 610.83 L1054.12 610.78 L1055.56 610.73 L1056.99 610.67 L1058.42 610.62 L1059.85 610.57 L1061.29 610.51 L1062.72 610.45 L1064.15 610.39 L1065.59 610.33 L1067.02 610.27 L1068.45 610.2 L1069.88 610.14 L1071.32 610.07 L1072.75 610 L1074.18 609.92 L1075.62 609.85 L1077.05 609.77 L1078.48 609.69 L1079.92 609.61 L1081.35 609.53 L1082.78 609.44 L1084.21 609.35 L1085.65 609.26 L1087.08 609.17 L1088.51 609.07 L1089.95 608.97 L1091.38 608.87 L1092.81 608.76 L1094.25 608.65 L1095.68 608.54 L1097.11 608.42 L1098.55 608.31 L1099.98 608.18 L1101.41 608.06 L1102.84 607.93 L1104.28 607.8 L1105.71 607.66 L1107.14 607.52 L1108.58 607.38 L1110.01 607.23 L1111.44 607.07 L1112.88 606.92 L1114.31 606.75 L1115.74 606.59 L1117.17 606.41 L1118.61 606.24 L1120.04 606.06 L1121.47 605.87 L1122.91 605.68 L1124.34 605.48 L1125.77 605.27 L1127.2 605.06 L1128.64 604.85 L1130.07 604.63 L1131.5 604.4 L1132.94 604.16 L1134.37 603.92 L1135.8 603.67 L1137.24 603.42 L1138.67 603.15 L1140.1 602.88 L1141.53 602.6 L1142.97 602.31 L1144.4 602.02 L1145.83 601.71 L1147.27 601.4 L1148.7 601.08 L1150.13 600.75 L1151.57 600.41 L1153 600.05 L1154.43 599.69 L1155.87 599.32 L1157.3 598.94 L1158.73 598.55 L1160.16 598.14 L1161.6 597.72 L1163.03 597.29 L1164.46 596.85 L1165.9 596.4 L1167.33 595.93 L1168.76 595.45 L1170.19 594.96 L1171.63 594.45 L1173.06 593.92 L1174.49 593.38 L1175.93 592.83 L1177.36 592.26 L1178.79 591.67 L1180.23 591.07 L1181.66 590.45 L1183.09 589.81 L1184.53 589.15 L1185.96 588.47 L1187.39 587.77 L1188.82 587.06 L1190.26 586.32 L1191.69 585.56 L1193.12 584.78 L1194.56 583.97 L1195.99 583.14 L1197.42 582.29 L1198.86 581.42 L1200.29 580.51 L1201.72 579.59 L1203.15 578.63 L1204.59 577.65 L1206.02 576.64 L1207.45 575.6 L1208.89 574.53 L1210.32 573.42 L1211.75 572.29 L1213.18 571.12 L1214.62 569.92 L1216.05 568.69 L1217.48 567.42 L1218.92 566.11 L1220.35 564.76 L1221.78 563.38 L1223.22 561.95 L1224.65 560.49 L1226.08 558.98 L1227.51 557.43 L1228.95 555.83 L1230.38 554.18 L1231.81 552.49 L1233.25 550.75 L1234.68 548.96 L1236.11 547.12 L1237.55 545.22 L1238.98 543.27 L1240.41 541.26 L1241.85 539.19 L1243.28 537.07 L1244.71 534.88 L1246.14 532.63 L1247.58 530.31 L1249.01 527.93 L1250.44 525.47 L1251.88 522.95 L1253.31 520.35 L1254.74 517.68 L1256.17 514.93 L1257.61 512.1 L1259.04 509.19 L1260.47 506.19 L1261.91 503.1 L1263.34 499.93 L1264.77 496.67 L1266.21 493.31 L1267.64 489.85 L1269.07 486.29 L1270.51 482.63 L1271.94 478.86 L1273.37 474.99 L1274.8 471 L1276.24 466.89 L1277.67 462.67 L1279.1 458.32 L1280.54 453.85 L1281.97 449.25 L1283.4 444.51 L1284.84 439.64 L1286.27 434.63 L1287.7 429.47 L1289.13 424.16 L1290.57 418.7 L1292 413.07 L1293.43 407.29 L1294.87 401.34 L1296.3 395.21 L1297.73 388.91 L1299.16 382.42 L1300.6 375.75 L1302.03 368.88 L1303.46 361.82 L1304.9 354.55 L1306.33 347.06 L1307.76 339.36 L1309.2 331.44 L1310.63 323.29 L1312.06 314.9 L1313.49 306.27 L1314.93 297.39 L1316.36 288.25 L1317.79 278.84 L1319.23 269.16 L1320.66 259.2 L1322.09 248.96 L1323.53 238.41 L1324.96 227.56 L1326.39 216.39 L1327.83 204.91 L1329.26 193.08 L1330.69 180.92 L1332.12 168.4 L1333.56 155.52 L1334.99 142.26 L1336.42 128.62 L1337.86 114.59 L1339.29 100.15 L1340.72 85.29 L1342.15 69.99 L1343.59 54.26 L1345.02 38.07" clip-path="url(#c1)"/><path d="M862.1 612.5 L863.53 612.5 L864.97 612.5 L866.4 612.5 L867.83 612.5 L869.26 612.5 L870.7 612.5 L872.13 612.5 L873.56 612.5 L875 612.5 L876.43 612.5 L877.86 612.5 L879.3 612.5 L880.73 612.5 L882.16 612.5 L883.6 612.5 L885.03 612.5 L886.46 612.5 L887.89 612.5 L889.33 612.5 L890.76 612.5 L892.19 612.5 L893.63 612.5 L895.06 612.5 L896.49 612.5 L897.92 612.5 L899.36 612.5 L900.79 612.5 L902.22 612.5 L903.66 612.5 L905.09 612.5 L906.52 612.5 L907.96 612.5 L909.39 612.5 L910.82 612.5 L912.25 612.5 L913.69 612.5 L915.12 612.5 L916.55 612.5 L917.99 612.49 L919.42 612.49 L920.85 612.49 L922.29 612.49 L923.72 612.49 L925.15 612.49 L926.59 612.49 L928.02 612.49 L929.45 612.49 L930.88 612.49 L932.32 612.49 L933.75 612.49 L935.18 612.49 L936.62 612.49 L938.05 612.49 L939.48 612.49 L940.91 612.49 L942.35 612.49 L943.78 612.48 L945.21 612.48 L946.65 612.48 L948.08 612.48 L949.51 612.48 L950.95 612.48 L952.38 612.48 L953.81 612.48 L955.25 612.48 L956.68 612.48 L958.11 612.48 L959.54 612.47 L960.98 612.47 L962.41 612.47 L963.84 612.47 L965.28 612.47 L966.71 612.47 L968.14 612.47 L969.58 612.47 L971.01 612.46 L972.44 612.46 L973.87 612.46 L975.31 612.46 L976.74 612.46 L978.17 612.46 L979.61 612.46 L981.04 612.45 L982.47 612.45 L983.9 612.45 L985.34 612.45 L986.77 612.45 L988.2 612.45 L989.64 612.44 L991.07 612.44 L992.5 612.44 L993.94 612.44 L995.37 612.43 L996.8 612.43 L998.24 612.43 L999.67 612.43 L1001.1 612.42 L1002.53 612.42 L1003.97 612.42 L1005.4 612.42 L1006.83 612.41 L1008.27 612.41 L1009.7 612.41 L1011.13 612.4 L1012.57 612.4 L1014 612.4 L1015.43 612.39 L1016.86 612.39 L1018.3 612.39 L1019.73 612.38 L1021.16 612.38 L1022.6 612.37 L1024.03 612.37 L1025.46 612.37 L1026.89 612.36 L1028.33 612.36 L1029.76 612.35 L1031.19 612.35 L1032.63 612.34 L1034.06 612.34 L1035.49 612.33 L1036.93 612.33 L1038.36 612.32 L1039.79 612.31 L1041.22 612.31 L1042.66 612.3 L1044.09 612.3 L1045.52 612.29 L1046.96 612.28 L1048.39 612.27 L1049.82 612.27 L1051.26 612.26 L1052.69 612.25 L1054.12 612.24 L1055.56 612.24 L1056.99 612.23 L1058.42 612.22 L1059.85 612.21 L1061.29 612.2 L1062.72 612.19 L1064.15 612.18 L1065.59 612.17 L1067.02 612.16 L1068.45 612.15 L1069.88 612.14 L1071.32 612.12 L1072.75 612.11 L1074.18 612.1 L1075.62 612.09 L1077.05 612.07 L1078.48 612.06 L1079.92 612.04 L1081.35 612.03 L1082.78 612.01 L1084.21 612 L1085.65 611.98 L1087.08 611.97 L1088.51 611.95 L1089.95 611.93 L1091.38 611.91 L1092.81 611.89 L1094.25 611.87 L1095.68 611.85 L1097.11 611.83 L1098.55 611.81 L1099.98 611.79 L1101.41 611.77 L1102.84 611.74 L1104.28 611.72 L1105.71 611.69 L1107.14 611.67 L1108.58 611.64 L1110.01 611.61 L1111.44 611.59 L1112.88 611.56 L1114.31 611.53 L1115.74 611.5 L1117.17 611.46 L1118.61 611.43 L1120.04 611.4 L1121.47 611.36 L1122.91 611.32 L1124.34 611.29 L1125.77 611.25 L1127.2 611.21 L1128.64 611.17 L1130.07 611.13 L1131.5 611.08 L1132.94 611.04 L1134.37 610.99 L1135.8 610.94 L1137.24 610.89 L1138.67 610.84 L1140.1 610.79 L1141.53 610.73 L1142.97 610.68 L1144.4 610.62 L1145.83 610.56 L1147.27 610.5 L1148.7 610.43 L1150.13 610.37 L1151.57 610.3 L1153 610.23 L1154.43 610.16 L1155.87 610.08 L1157.3 610.01 L1158.73 609.93 L1160.16 609.85 L1161.6 609.76 L1163.03 609.67 L1164.46 609.58 L1165.9 609.49 L1167.33 609.4 L1168.76 609.3 L1170.19 609.2 L1171.63 609.09 L1173.06 608.98 L1174.49 608.87 L1175.93 608.76 L1177.36 608.64 L1178.79 608.51 L1180.23 608.39 L1181.66 608.26 L1183.09 608.12 L1184.53 607.98 L1185.96 607.84 L1187.39 607.69 L1188.82 607.54 L1190.26 607.38 L1191.69 607.22 L1193.12 607.05 L1194.56 606.88 L1195.99 606.7 L1197.42 606.52 L1198.86 606.33 L1200.29 606.13 L1201.72 605.93 L1203.15 605.72 L1204.59 605.5 L1206.02 605.28 L1207.45 605.05 L1208.89 604.82 L1210.32 604.57 L1211.75 604.32 L1213.18 604.06 L1214.62 603.8 L1216.05 603.52 L1217.48 603.23 L1218.92 602.94 L1220.35 602.64 L1221.78 602.33 L1223.22 602 L1224.65 601.67 L1226.08 601.33 L1227.51 600.97 L1228.95 600.61 L1230.38 600.23 L1231.81 599.84 L1233.25 599.44 L1234.68 599.02 L1236.11 598.6 L1237.55 598.16 L1238.98 597.7 L1240.41 597.23 L1241.85 596.75 L1243.28 596.25 L1244.71 595.73 L1246.14 595.2 L1247.58 594.66 L1249.01 594.09 L1250.44 593.51 L1251.88 592.9 L1253.31 592.28 L1254.74 591.64 L1256.17 590.98 L1257.61 590.3 L1259.04 589.6 L1260.47 588.87 L1261.91 588.12 L1263.34 587.35 L1264.77 586.55 L1266.21 585.73 L1267.64 584.88 L1269.07 584 L1270.51 583.1 L1271.94 582.17 L1273.37 581.21 L1274.8 580.22 L1276.24 579.19 L1277.67 578.14 L1279.1 577.05 L1280.54 575.93 L1281.97 574.77 L1283.4 573.57 L1284.84 572.34 L1286.27 571.06 L1287.7 569.75 L1289.13 568.4 L1290.57 567 L1292 565.56 L1293.43 564.07 L1294.87 562.53 L1296.3 560.95 L1297.73 559.32 L1299.16 557.63 L1300.6 555.89 L1302.03 554.1 L1303.46 552.25 L1304.9 550.34 L1306.33 548.37 L1307.76 546.34 L1309.2 544.24 L1310.63 542.08 L1312.06 539.85 L1313.49 537.55 L1314.93 535.17 L1316.36 532.72 L1317.79 530.19 L1319.23 527.58 L1320.66 524.89 L1322.09 522.12 L1323.53 519.25 L1324.96 516.3 L1326.39 513.25 L1327.83 510.11 L1329.26 506.86 L1330.69 503.51 L1332.12 500.06 L1333.56 496.5 L1334.99 492.82 L1336.42 489.03 L1337.86 485.12 L1339.29 481.08 L1340.72 476.92 L1342.15 472.62 L1343.59 468.19 L1345.02 463.62 L1346.45 458.9 L1347.89 454.03 L1349.32 449.01 L1350.75 443.83 L1352.19 438.49 L1353.62 432.97 L1355.05 427.29 L1356.48 421.42 L1357.92 415.36 L1359.35 409.12 L1360.78 402.67 L1362.22 396.03 L1363.65 389.17 L1365.08 382.09 L1366.52 374.79 L1367.95 367.26 L1369.38 359.49 L1370.82 351.47 L1372.25 343.2 L1373.68 334.67 L1375.11 325.87 L1376.55 316.78 L1377.98 307.41 L1379.41 297.75 L1380.85 287.78 L1382.28 277.49 L1383.71 266.87 L1385.14 255.92 L1386.58 244.62 L1388.01 232.97 L1389.44 220.94 L1390.88 208.54 L1392.31 195.74 L1393.74 182.53 L1395.18 168.91 L1396.61 154.86 L1398.04 140.36 L1399.47 125.4 L1400.91 109.96 L1402.34 94.04 L1403.77 77.61 L1405.21 60.67 L1406.64 43.18" clip-path="url(#c1)"/><path d="M862.1 612.5 L863.53 612.5 L864.97 612.5 L866.4 612.5 L867.83 612.5 L869.26 612.5 L870.7 612.5 L872.13 612.5 L873.56 612.5 L875 612.5 L876.43 612.5 L877.86 612.5 L879.3 612.5 L880.73 612.5 L882.16 612.5 L883.6 612.5 L885.03 612.5 L886.46 612.5 L887.89 612.5 L889.33 612.5 L890.76 612.5 L892.19 612.5 L893.63 612.5 L895.06 612.5 L896.49 612.5 L897.92 612.5 L899.36 612.5 L900.79 612.5 L902.22 612.5 L903.66 612.5 L905.09 612.5 L906.52 612.5 L907.96 612.5 L909.39 612.5 L910.82 612.5 L912.25 612.5 L913.69 612.5 L915.12 612.5 L916.55 612.5 L917.99 612.5 L919.42 612.5 L920.85 612.49 L922.29 612.49 L923.72 612.49 L925.15 612.49 L926.59 612.49 L928.02 612.49 L929.45 612.49 L930.88 612.49 L932.32 612.49 L933.75 612.49 L935.18 612.49 L936.62 612.49 L938.05 612.49 L939.48 612.49 L940.91 612.49 L942.35 612.49 L943.78 612.49 L945.21 612.49 L946.65 612.49 L948.08 612.48 L949.51 612.48 L950.95 612.48 L952.38 612.48 L953.81 612.48 L955.25 612.48 L956.68 612.48 L958.11 612.48 L959.54 612.48 L960.98 612.48 L962.41 612.48 L963.84 612.48 L965.28 612.47 L966.71 612.47 L968.14 612.47 L969.58 612.47 L971.01 612.47 L972.44 612.47 L973.87 612.47 L975.31 612.47 L976.74 612.47 L978.17 612.46 L979.61 612.46 L981.04 612.46 L982.47 612.46 L983.9 612.46 L985.34 612.46 L986.77 612.46 L988.2 612.45 L989.64 612.45 L991.07 612.45 L992.5 612.45 L993.94 612.45 L995.37 612.45 L996.8 612.44 L998.24 612.44 L999.67 612.44 L1001.1 612.44 L1002.53 612.44 L1003.97 612.43 L1005.4 612.43 L1006.83 612.43 L1008.27 612.43 L1009.7 612.42 L1011.13 612.42 L1012.57 612.42 L1014 612.42 L1015.43 612.41 L1016.86 612.41 L1018.3 612.41 L1019.73 612.4 L1021.16 612.4 L1022.6 612.4 L1024.03 612.4 L1025.46 612.39 L1026.89 612.39 L1028.33 612.38 L1029.76 612.38 L1031.19 612.38 L1032.63 612.37 L1034.06 612.37 L1035.49 612.36 L1036.93 612.36 L1038.36 612.36 L1039.79 612.35 L1041.22 612.35 L1042.66 612.34 L1044.09 612.34 L1045.52 612.33 L1046.96 612.33 L1048.39 612.32 L1049.82 612.32 L1051.26 612.31 L1052.69 612.3 L1054.12 612.3 L1055.56 612.29 L1056.99 612.28 L1058.42 612.28 L1059.85 612.27 L1061.29 612.26 L1062.72 612.26 L1064.15 612.25 L1065.59 612.24 L1067.02 612.23 L1068.45 612.22 L1069.88 612.22 L1071.32 612.21 L1072.75 612.2 L1074.18 612.19 L1075.62 612.18 L1077.05 612.17 L1078.48 612.16 L1079.92 612.15 L1081.35 612.14 L1082.78 612.13 L1084.21 612.12 L1085.65 612.1 L1087.08 612.09 L1088.51 612.08 L1089.95 612.07 L1091.38 612.05 L1092.81 612.04 L1094.25 612.02 L1095.68 612.01 L1097.11 612 L1098.55 611.98 L1099.98 611.96 L1101.41 611.95 L1102.84 611.93 L1104.28 611.91 L1105.71 611.9 L1107.14 611.88 L1108.58 611.86 L1110.01 611.84 L1111.44 611.82 L1112.88 611.8 L1114.31 611.78 L1115.74 611.75 L1117.17 611.73 L1118.61 611.71 L1120.04 611.68 L1121.47 611.66 L1122.91 611.63 L1124.34 611.61 L1125.77 611.58 L1127.2 611.55 L1128.64 611.52 L1130.07 611.49 L1131.5 611.46 L1132.94 611.43 L1134.37 611.4 L1135.8 611.37 L1137.24 611.33 L1138.67 611.3 L1140.1 611.26 L1141.53 611.22 L1142.97 611.18 L1144.4 611.14 L1145.83 611.1 L1147.27 611.06 L1148.7 611.02 L1150.13 610.97 L1151.57 610.93 L1153 610.88 L1154.43 610.83 L1155.87 610.78 L1157.3 610.73 L1158.73 610.67 L1160.16 610.62 L1161.6 610.56 L1163.03 610.5 L1164.46 610.44 L1165.9 610.38 L1167.33 610.32 L1168.76 610.25 L1170.19 610.18 L1171.63 610.11 L1173.06 610.04 L1174.49 609.97 L1175.93 609.89 L1177.36 609.81 L1178.79 609.73 L1180.23 609.65 L1181.66 609.56 L1183.09 609.47 L1184.53 609.38 L1185.96 609.29 L1187.39 609.19 L1188.82 609.09 L1190.26 608.99 L1191.69 608.88 L1193.12 608.77 L1194.56 608.66 L1195.99 608.55 L1197.42 608.43 L1198.86 608.3 L1200.29 608.18 L1201.72 608.05 L1203.15 607.91 L1204.59 607.77 L1206.02 607.63 L1207.45 607.49 L1208.89 607.33 L1210.32 607.18 L1211.75 607.02 L1213.18 606.85 L1214.62 606.68 L1216.05 606.51 L1217.48 606.33 L1218.92 606.14 L1220.35 605.95 L1221.78 605.75 L1223.22 605.55 L1224.65 605.34 L1226.08 605.13 L1227.51 604.9 L1228.95 604.67 L1230.38 604.44 L1231.81 604.2 L1233.25 603.95 L1234.68 603.69 L1236.11 603.42 L1237.55 603.15 L1238.98 602.87 L1240.41 602.58 L1241.85 602.28 L1243.28 601.97 L1244.71 601.66 L1246.14 601.33 L1247.58 600.99 L1249.01 600.65 L1250.44 600.29 L1251.88 599.92 L1253.31 599.54 L1254.74 599.15 L1256.17 598.75 L1257.61 598.34 L1259.04 597.91 L1260.47 597.47 L1261.91 597.02 L1263.34 596.56 L1264.77 596.08 L1266.21 595.58 L1267.64 595.07 L1269.07 594.55 L1270.51 594.01 L1271.94 593.45 L1273.37 592.88 L1274.8 592.29 L1276.24 591.68 L1277.67 591.05 L1279.1 590.41 L1280.54 589.75 L1281.97 589.06 L1283.4 588.36 L1284.84 587.63 L1286.27 586.88 L1287.7 586.11 L1289.13 585.32 L1290.57 584.5 L1292 583.66 L1293.43 582.79 L1294.87 581.89 L1296.3 580.97 L1297.73 580.02 L1299.16 579.05 L1300.6 578.04 L1302.03 577.01 L1303.46 575.94 L1304.9 574.84 L1306.33 573.7 L1307.76 572.54 L1309.2 571.34 L1310.63 570.1 L1312.06 568.82 L1313.49 567.51 L1314.93 566.15 L1316.36 564.76 L1317.79 563.32 L1319.23 561.84 L1320.66 560.32 L1322.09 558.75 L1323.53 557.13 L1324.96 555.47 L1326.39 553.75 L1327.83 551.99 L1329.26 550.17 L1330.69 548.29 L1332.12 546.36 L1333.56 544.37 L1334.99 542.32 L1336.42 540.21 L1337.86 538.04 L1339.29 535.8 L1340.72 533.49 L1342.15 531.11 L1343.59 528.66 L1345.02 526.14 L1346.45 523.55 L1347.89 520.87 L1349.32 518.11 L1350.75 515.27 L1352.19 512.35 L1353.62 509.34 L1355.05 506.24 L1356.48 503.04 L1357.92 499.75 L1359.35 496.36 L1360.78 492.86 L1362.22 489.26 L1363.65 485.56 L1365.08 481.74 L1366.52 477.81 L1367.95 473.75 L1369.38 469.58 L1370.82 465.28 L1372.25 460.86 L1373.68 456.29 L1375.11 451.6 L1376.55 446.76 L1377.98 441.77 L1379.41 436.64 L1380.85 431.35 L1382.28 425.9 L1383.71 420.29 L1385.14 414.51 L1386.58 408.55 L1388.01 402.42 L1389.44 396.1 L1390.88 389.59 L1392.31 382.88 L1393.74 375.98 L1395.18 368.86 L1396.61 361.54 L1398.04 353.99 L1399.47 346.21 L1400.91 338.2 L1402.34 329.95 L1403.77 321.46 L1405.21 312.7 L1406.64 303.69 L1408.07 294.4 L1409.51 284.83 L1410.94 274.98 L1412.37 264.82 L1413.8 254.37 L1415.24 243.6 L1416.67 232.5 L1418.1 221.07 L1419.54 209.3 L1420.97 197.17 L1422.4 184.68 L1423.84 171.82 L1425.27 158.56 L1426.7 144.91 L1428.13 130.85 L1429.57 116.36 L1431 101.44 L1432.43 86.07 L1433.87 70.23 L1435.3 53.92" clip-path="url(#c1)"/><path d="M862.1 611.2 L863.53 611.18 L864.97 611.16 L866.4 611.15 L867.83 611.13 L869.26 611.12 L870.7 611.1 L872.13 611.09 L873.56 611.07 L875 611.05 L876.43 611.04 L877.86 611.02 L879.3 611 L880.73 610.98 L882.16 610.97 L883.6 610.95 L885.03 610.93 L886.46 610.91 L887.89 610.89 L889.33 610.88 L890.76 610.86 L892.19 610.84 L893.63 610.82 L895.06 610.8 L896.49 610.78 L897.92 610.76 L899.36 610.74 L900.79 610.72 L902.22 610.7 L903.66 610.68 L905.09 610.66 L906.52 610.64 L907.96 610.61 L909.39 610.59 L910.82 610.57 L912.25 610.55 L913.69 610.53 L915.12 610.5 L916.55 610.48 L917.99 610.46 L919.42 610.43 L920.85 610.41 L922.29 610.39 L923.72 610.36 L925.15 610.34 L926.59 610.31 L928.02 610.29 L929.45 610.26 L930.88 610.23 L932.32 610.21 L933.75 610.18 L935.18 610.15 L936.62 610.13 L938.05 610.1 L939.48 610.07 L940.91 610.04 L942.35 610.02 L943.78 609.99 L945.21 609.96 L946.65 609.93 L948.08 609.9 L949.51 609.87 L950.95 609.84 L952.38 609.81 L953.81 609.78 L955.25 609.75 L956.68 609.71 L958.11 609.68 L959.54 609.65 L960.98 609.62 L962.41 609.58 L963.84 609.55 L965.28 609.52 L966.71 609.48 L968.14 609.45 L969.58 609.41 L971.01 609.38 L972.44 609.34 L973.87 609.3 L975.31 609.27 L976.74 609.23 L978.17 609.19 L979.61 609.15 L981.04 609.11 L982.47 609.08 L983.9 609.04 L985.34 609 L986.77 608.96 L988.2 608.92 L989.64 608.87 L991.07 608.83 L992.5 608.79 L993.94 608.75 L995.37 608.7 L996.8 608.66 L998.24 608.62 L999.67 608.57 L1001.1 608.53 L1002.53 608.48 L1003.97 608.43 L1005.4 608.39 L1006.83 608.34 L1008.27 608.29 L1009.7 608.24 L1011.13 608.19 L1012.57 608.14 L1014 608.09 L1015.43 608.04 L1016.86 607.99 L1018.3 607.94 L1019.73 607.89 L1021.16 607.83 L1022.6 607.78 L1024.03 607.73 L1025.46 607.67 L1026.89 607.62 L1028.33 607.56 L1029.76 607.5 L1031.19 607.44 L1032.63 607.39 L1034.06 607.33 L1035.49 607.27 L1036.93 607.21 L1038.36 607.15 L1039.79 607.08 L1041.22 607.02 L1042.66 606.96 L1044.09 606.9 L1045.52 606.83 L1046.96 606.77 L1048.39 606.7 L1049.82 606.63 L1051.26 606.57 L1052.69 606.5 L1054.12 606.43 L1055.56 606.36 L1056.99 606.29 L1058.42 606.22 L1059.85 606.14 L1061.29 606.07 L1062.72 606 L1064.15 605.92 L1065.59 605.85 L1067.02 605.77 L1068.45 605.69 L1069.88 605.61 L1071.32 605.53 L1072.75 605.45 L1074.18 605.37 L1075.62 605.29 L1077.05 605.21 L1078.48 605.12 L1079.92 605.04 L1081.35 604.95 L1082.78 604.86 L1084.21 604.78 L1085.65 604.69 L1087.08 604.6 L1088.51 604.51 L1089.95 604.42 L1091.38 604.32 L1092.81 604.23 L1094.25 604.13 L1095.68 604.04 L1097.11 603.94 L1098.55 603.84 L1099.98 603.74 L1101.41 603.64 L1102.84 603.54 L1104.28 603.43 L1105.71 603.33 L1107.14 603.22 L1108.58 603.12 L1110.01 603.01 L1111.44 602.9 L1112.88 602.79 L1114.31 602.68 L1115.74 602.57 L1117.17 602.45 L1118.61 602.34 L1120.04 602.22 L1121.47 602.1 L1122.91 601.98 L1124.34 601.86 L1125.77 601.74 L1127.2 601.61 L1128.64 601.49 L1130.07 601.36 L1131.5 601.23 L1132.94 601.1 L1134.37 600.97 L1135.8 600.84 L1137.24 600.7 L1138.67 600.57 L1140.1 600.43 L1141.53 600.29 L1142.97 600.15 L1144.4 600.01 L1145.83 599.87 L1147.27 599.72 L1148.7 599.57 L1150.13 599.42 L1151.57 599.27 L1153 599.12 L1154.43 598.97 L1155.87 598.81 L1157.3 598.65 L1158.73 598.5 L1160.16 598.33 L1161.6 598.17 L1163.03 598.01 L1164.46 597.84 L1165.9 597.67 L1167.33 597.5 L1168.76 597.33 L1170.19 597.15 L1171.63 596.98 L1173.06 596.8 L1174.49 596.62 L1175.93 596.43 L1177.36 596.25 L1178.79 596.06 L1180.23 595.87 L1181.66 595.68 L1183.09 595.49 L1184.53 595.29 L1185.96 595.09 L1187.39 594.89 L1188.82 594.69 L1190.26 594.49 L1191.69 594.28 L1193.12 594.07 L1194.56 593.86 L1195.99 593.64 L1197.42 593.43 L1198.86 593.21 L1200.29 592.98 L1201.72 592.76 L1203.15 592.53 L1204.59 592.3 L1206.02 592.07 L1207.45 591.83 L1208.89 591.6 L1210.32 591.36 L1211.75 591.11 L1213.18 590.87 L1214.62 590.62 L1216.05 590.37 L1217.48 590.11 L1218.92 589.85 L1220.35 589.59 L1221.78 589.33 L1223.22 589.06 L1224.65 588.79 L1226.08 588.52 L1227.51 588.24 L1228.95 587.97 L1230.38 587.68 L1231.81 587.4 L1233.25 587.11 L1234.68 586.82 L1236.11 586.52 L1237.55 586.22 L1238.98 585.92 L1240.41 585.61 L1241.85 585.3 L1243.28 584.99 L1244.71 584.68 L1246.14 584.36 L1247.58 584.03 L1249.01 583.7 L1250.44 583.37 L1251.88 583.04 L1253.31 582.7 L1254.74 582.36 L1256.17 582.01 L1257.61 581.66 L1259.04 581.3 L1260.47 580.94 L1261.91 580.58 L1263.34 580.21 L1264.77 579.84 L1266.21 579.47 L1267.64 579.09 L1269.07 578.7 L1270.51 578.31 L1271.94 577.92 L1273.37 577.52 L1274.8 577.12 L1276.24 576.71 L1277.67 576.3 L1279.1 575.88 L1280.54 575.46 L1281.97 575.04 L1283.4 574.61 L1284.84 574.17 L1286.27 573.73 L1287.7 573.28 L1289.13 572.83 L1290.57 572.38 L1292 571.91 L1293.43 571.45 L1294.87 570.97 L1296.3 570.5 L1297.73 570.01 L1299.16 569.52 L1300.6 569.03 L1302.03 568.53 L1303.46 568.02 L1304.9 567.51 L1306.33 567 L1307.76 566.47 L1309.2 565.94 L1310.63 565.41 L1312.06 564.86 L1313.49 564.32 L1314.93 563.76 L1316.36 563.2 L1317.79 562.63 L1319.23 562.06 L1320.66 561.48 L1322.09 560.89 L1323.53 560.3 L1324.96 559.7 L1326.39 559.09 L1327.83 558.48 L1329.26 557.86 L1330.69 557.23 L1332.12 556.59 L1333.56 555.95 L1334.99 555.3 L1336.42 554.64 L1337.86 553.97 L1339.29 553.3 L1340.72 552.62 L1342.15 551.93 L1343.59 551.23 L1345.02 550.53 L1346.45 549.82 L1347.89 549.1 L1349.32 548.37 L1350.75 547.63 L1352.19 546.88 L1353.62 546.13 L1355.05 545.36 L1356.48 544.59 L1357.92 543.81 L1359.35 543.02 L1360.78 542.22 L1362.22 541.41 L1363.65 540.59 L1365.08 539.77 L1366.52 538.93 L1367.95 538.08 L1369.38 537.23 L1370.82 536.36 L1372.25 535.49 L1373.68 534.6 L1375.11 533.7 L1376.55 532.8 L1377.98 531.88 L1379.41 530.95 L1380.85 530.01 L1382.28 529.07 L1383.71 528.11 L1385.14 527.14 L1386.58 526.15 L1388.01 525.16 L1389.44 524.15 L1390.88 523.14 L1392.31 522.11 L1393.74 521.07 L1395.18 520.02 L1396.61 518.96 L1398.04 517.88 L1399.47 516.79 L1400.91 515.69 L1402.34 514.58 L1403.77 513.45 L1405.21 512.31 L1406.64 511.16 L1408.07 509.99 L1409.51 508.81 L1410.94 507.62 L1412.37 506.41 L1413.8 505.19 L1415.24 503.96 L1416.67 502.71 L1418.1 501.45 L1419.54 500.17 L1420.97 498.88 L1422.4 497.57 L1423.84 496.25 L1425.27 494.91 L1426.7 493.56 L1428.13 492.19 L1429.57 490.81 L1431 489.41 L1432.43 487.99 L1433.87 486.56 L1435.3 485.11" clip-path="url(#c1)"/></g>
<g stroke="#424242" stroke-width="1.7" fill="none"><path d="M1013.52 600.39 L1003.42 616.76 L1023.62 616.76 Z"/><path d="M1013.52 605.71 V617.71"/><path d="M1007.52 611.71 H1019.52"/></g><g stroke="#424242" stroke-width="1.7" fill="none"><path d="M1053.17 599.53 L1043.07 615.9 L1063.27 615.9 Z"/><path d="M1053.17 604.85 V616.85"/><path d="M1047.17 610.85 H1059.17"/></g><g stroke="#424242" stroke-width="1.7" fill="none"><path d="M1083.92 598.02 L1073.82 614.38 L1094.02 614.38 Z"/><path d="M1083.92 603.33 V615.33"/><path d="M1077.92 609.33 H1089.92"/></g><g stroke="#424242" stroke-width="1.7" fill="none"><path d="M1109.05 596.42 L1098.95 612.78 L1119.15 612.78 Z"/><path d="M1109.05 601.73 V613.73"/><path d="M1103.05 607.73 H1115.05"/></g><g stroke="#424242" stroke-width="1.7" fill="none"><path d="M1130.3 594.31 L1120.2 610.68 L1140.4 610.68 Z"/><path d="M1130.3 599.63 V611.63"/><path d="M1124.3 605.63 H1136.3"/></g><g stroke="#424242" stroke-width="1.7" fill="none"><path d="M1148.7 591.64 L1138.6 608 L1158.8 608 Z"/><path d="M1148.7 596.95 V608.95"/><path d="M1142.7 602.95 H1154.7"/></g><g stroke="#424242" stroke-width="1.7" fill="none"><path d="M1164.93 586.09 L1154.83 602.46 L1175.03 602.46 Z"/><path d="M1164.93 591.41 V603.41"/><path d="M1158.93 597.41 H1170.93"/></g><g stroke="#424242" stroke-width="1.7" fill="none"><path d="M1179.45 581.31 L1169.35 597.68 L1189.55 597.68 Z"/><path d="M1179.45 586.63 V598.63"/><path d="M1173.45 592.63 H1185.45"/></g><g stroke="#424242" stroke-width="1.7" fill="none"><path d="M1235.34 538.88 L1225.24 555.24 L1245.44 555.24 Z"/><path d="M1235.34 544.19 V556.19"/><path d="M1229.34 548.47 H1241.34 M1229.34 551.91 H1241.34"/></g><g stroke="#424242" stroke-width="1.7" fill="none"><path d="M1274.99 464.32 L1264.89 480.68 L1285.09 480.68 Z"/><path d="M1274.99 469.63 V481.63"/><path d="M1268.99 472.77 H1280.99 M1268.99 478.5 H1280.99"/></g><g stroke="#424242" stroke-width="1.7" fill="none"><path d="M1330.87 168.97 L1320.77 185.33 L1340.97 185.33 Z"/><path d="M1330.87 174.28 V186.28"/><path d="M1324.87 177.22 H1336.87 M1324.87 183.34 H1336.87"/></g><g stroke="#0a47a8" stroke-width="1.7" fill="none"><circle cx="1013.52" cy="612.38" r="10.1"/><path d="M1013.52 606.38 V618.38"/><path d="M1007.52 612.38 H1019.52"/></g><g stroke="#0a47a8" stroke-width="1.7" fill="none"><circle cx="1053.17" cy="612.29" r="10.1"/><path d="M1053.17 606.29 V618.29"/><path d="M1047.17 612.29 H1059.17"/></g><g stroke="#0a47a8" stroke-width="1.7" fill="none"><circle cx="1083.92" cy="611.99" r="10.1"/><path d="M1083.92 605.99 V617.99"/><path d="M1077.92 611.99 H1089.92"/></g><g stroke="#0a47a8" stroke-width="1.7" fill="none"><circle cx="1109.05" cy="611.71" r="10.1"/><path d="M1109.05 605.71 V617.71"/><path d="M1103.05 611.71 H1115.05"/></g><g stroke="#0a47a8" stroke-width="1.7" fill="none"><circle cx="1130.3" cy="611.32" r="10.1"/><path d="M1130.3 605.32 V617.32"/><path d="M1124.3 611.32 H1136.3"/></g><g stroke="#0a47a8" stroke-width="1.7" fill="none"><circle cx="1148.7" cy="610.85" r="10.1"/><path d="M1148.7 604.85 V616.85"/><path d="M1142.7 610.85 H1154.7"/></g><g stroke="#0a47a8" stroke-width="1.7" fill="none"><circle cx="1164.93" cy="609.53" r="10.1"/><path d="M1164.93 603.53 V615.53"/><path d="M1158.93 609.53 H1170.93"/></g><g stroke="#0a47a8" stroke-width="1.7" fill="none"><circle cx="1179.45" cy="608.19" r="10.1"/><path d="M1179.45 602.19 V614.19"/><path d="M1173.45 608.19 H1185.45"/></g><g stroke="#0a47a8" stroke-width="1.7" fill="none"><circle cx="1235.34" cy="599.51" r="10.1"/><path d="M1235.34 593.51 V605.51"/><path d="M1229.34 598.36 H1241.34 M1229.34 600.66 H1241.34"/></g><g stroke="#0a47a8" stroke-width="1.7" fill="none"><circle cx="1274.99" cy="579.63" r="10.1"/><path d="M1274.99 573.63 V585.63"/><path d="M1268.99 578.48 H1280.99 M1268.99 580.77 H1280.99"/></g><g stroke="#0a47a8" stroke-width="1.7" fill="none"><circle cx="1330.87" cy="502.97" r="10.1"/><path d="M1330.87 496.97 V508.97"/><path d="M1324.87 501.06 H1336.87 M1324.87 504.88 H1336.87"/></g><g stroke="#ff8a1e" stroke-width="1.7" fill="none"><path d="M1013.52 597.95 L1003.42 608.05 L1013.52 618.15 L1023.62 608.05 Z"/><path d="M1013.52 602.05 V614.05"/><path d="M1007.52 608.05 H1019.52"/></g><g stroke="#ff8a1e" stroke-width="1.7" fill="none"><path d="M1053.17 596.16 L1043.07 606.26 L1053.17 616.36 L1063.27 606.26 Z"/><path d="M1053.17 600.26 V612.26"/><path d="M1047.17 606.26 H1059.17"/></g><g stroke="#ff8a1e" stroke-width="1.7" fill="none"><path d="M1083.92 594.49 L1073.82 604.59 L1083.92 614.69 L1094.02 604.59 Z"/><path d="M1083.92 598.59 V610.59"/><path d="M1077.92 604.59 H1089.92"/></g><g stroke="#ff8a1e" stroke-width="1.7" fill="none"><path d="M1109.05 592.85 L1098.95 602.95 L1109.05 613.05 L1119.15 602.95 Z"/><path d="M1109.05 596.95 V608.95"/><path d="M1103.05 602.95 H1115.05"/></g><g stroke="#ff8a1e" stroke-width="1.7" fill="none"><path d="M1130.3 591.13 L1120.2 601.23 L1130.3 611.33 L1140.4 601.23 Z"/><path d="M1130.3 595.23 V607.23"/><path d="M1124.3 601.23 H1136.3"/></g><g stroke="#ff8a1e" stroke-width="1.7" fill="none"><path d="M1148.7 589.41 L1138.6 599.51 L1148.7 609.61 L1158.8 599.51 Z"/><path d="M1148.7 593.51 V605.51"/><path d="M1142.7 599.51 H1154.7"/></g><g stroke="#ff8a1e" stroke-width="1.7" fill="none"><path d="M1164.93 587.11 L1154.83 597.21 L1164.93 607.31 L1175.03 597.21 Z"/><path d="M1164.93 591.21 V603.21"/><path d="M1158.93 597.21 H1170.93"/></g><g stroke="#ff8a1e" stroke-width="1.7" fill="none"><path d="M1179.45 584.63 L1169.35 594.73 L1179.45 604.83 L1189.55 594.73 Z"/><path d="M1179.45 588.73 V600.73"/><path d="M1173.45 594.73 H1185.45"/></g><g stroke="#ff8a1e" stroke-width="1.7" fill="none"><path d="M1235.34 576.03 L1225.24 586.13 L1235.34 596.23 L1245.44 586.13 Z"/><path d="M1235.34 580.13 V592.13"/><path d="M1229.34 586.13 H1241.34"/></g><g stroke="#ff8a1e" stroke-width="1.7" fill="none"><path d="M1274.99 567.04 L1264.89 577.14 L1274.99 587.24 L1285.09 577.14 Z"/><path d="M1274.99 571.14 V583.14"/><path d="M1268.99 577.14 H1280.99"/></g><g stroke="#ff8a1e" stroke-width="1.7" fill="none"><path d="M1330.87 547.93 L1320.77 558.03 L1330.87 568.13 L1340.97 558.03 Z"/><path d="M1330.87 552.03 V564.03"/><path d="M1324.87 558.03 H1336.87"/></g><g stroke="#b0330a" stroke-width="1.7" fill="none"><rect x="1003.42" y="602.21" width="20.2" height="20.2"/><path d="M1013.52 606.31 V618.31"/><path d="M1007.52 612.31 H1019.52"/></g><g stroke="#b0330a" stroke-width="1.7" fill="none"><rect x="1043.07" y="602.07" width="20.2" height="20.2"/><path d="M1053.17 606.17 V618.17"/><path d="M1047.17 612.17 H1059.17"/></g><g stroke="#b0330a" stroke-width="1.7" fill="none"><rect x="1073.82" y="601.85" width="20.2" height="20.2"/><path d="M1083.92 605.95 V617.95"/><path d="M1077.92 611.95 H1089.92"/></g><g stroke="#b0330a" stroke-width="1.7" fill="none"><rect x="1098.95" y="601.59" width="20.2" height="20.2"/><path d="M1109.05 605.69 V617.69"/><path d="M1103.05 611.69 H1115.05"/></g><g stroke="#b0330a" stroke-width="1.7" fill="none"><rect x="1120.2" y="601.2" width="20.2" height="20.2"/><path d="M1130.3 605.3 V617.3"/><path d="M1124.3 611.3 H1136.3"/></g><g stroke="#b0330a" stroke-width="1.7" fill="none"><rect x="1138.6" y="600.75" width="20.2" height="20.2"/><path d="M1148.7 604.85 V616.85"/><path d="M1142.7 610.85 H1154.7"/></g><g stroke="#b0330a" stroke-width="1.7" fill="none"><rect x="1154.83" y="600.11" width="20.2" height="20.2"/><path d="M1164.93 604.21 V616.21"/><path d="M1158.93 610.21 H1170.93"/></g><g stroke="#b0330a" stroke-width="1.7" fill="none"><rect x="1169.35" y="599.58" width="20.2" height="20.2"/><path d="M1179.45 603.68 V615.68"/><path d="M1173.45 609.68 H1185.45"/></g><g stroke="#b0330a" stroke-width="1.7" fill="none"><rect x="1225.24" y="593.81" width="20.2" height="20.2"/><path d="M1235.34 597.91 V609.91"/><path d="M1229.34 603.91 H1241.34"/></g><g stroke="#b0330a" stroke-width="1.7" fill="none"><rect x="1264.89" y="582.34" width="20.2" height="20.2"/><path d="M1274.99 586.44 V598.44"/><path d="M1268.99 592.44 H1280.99"/></g><g stroke="#b0330a" stroke-width="1.7" fill="none"><rect x="1320.77" y="537.99" width="20.2" height="20.2"/><path d="M1330.87 542.09 V554.09"/><path d="M1324.87 548.09 H1336.87"/></g>
<g stroke="#000" stroke-width="1.8" fill="none" stroke-linecap="butt"><path d="M957.63 660.3 v-10.3 M957.63 86.8 v10.3"/><path d="M1053.17 660.3 v-10.3 M1053.17 86.8 v10.3"/><path d="M1148.7 660.3 v-10.3 M1148.7 86.8 v10.3"/><path d="M1244.23 660.3 v-10.3 M1244.23 86.8 v10.3"/><path d="M1339.77 660.3 v-10.3 M1339.77 86.8 v10.3"/><path d="M862.1 612.51 h10.3 M1435.3 612.51 h-10.3"/><path d="M862.1 516.92 h10.3 M1435.3 516.92 h-10.3"/><path d="M862.1 421.34 h10.3 M1435.3 421.34 h-10.3"/><path d="M862.1 325.76 h10.3 M1435.3 325.76 h-10.3"/><path d="M862.1 230.18 h10.3 M1435.3 230.18 h-10.3"/><path d="M862.1 134.59 h10.3 M1435.3 134.59 h-10.3"/></g><rect x="862.1" y="86.8" width="573.2" height="573.5" fill="none" stroke="#000" stroke-width="2.9"/>
<path d="M1033.9 117.6 H1120.8" stroke="#bebebe" stroke-width="1.7" stroke-dasharray="6.7 9.36" fill="none"/>
<g stroke="#424242" stroke-width="1.7" fill="none"><path d="M1033.9 159.1 H1120.8 M1033.9 154.2 v9.8 M1120.8 154.2 v9.8"/></g>
<g stroke="#424242" stroke-width="1.7" fill="none"><path d="M1077.1 147.79 L1067 164.15 L1087.2 164.15 Z"/></g>
<g stroke="#0a47a8" stroke-width="1.7" fill="none"><path d="M1033.9 200.5 H1120.8 M1033.9 195.6 v9.8 M1120.8 195.6 v9.8"/></g>
<g stroke="#0a47a8" stroke-width="1.7" fill="none"><circle cx="1077.1" cy="200.5" r="10.1"/></g>
<g stroke="#ff8a1e" stroke-width="1.7" fill="none"><path d="M1033.9 241.9 H1120.8 M1033.9 237 v9.8 M1120.8 237 v9.8"/></g>
<g stroke="#ff8a1e" stroke-width="1.7" fill="none"><path d="M1077.1 231.8 L1067 241.9 L1077.1 252 L1087.2 241.9 Z"/></g>
<g stroke="#b0330a" stroke-width="1.7" fill="none"><path d="M1033.9 283.3 H1120.8 M1033.9 278.4 v9.8 M1120.8 278.4 v9.8"/></g>
<g stroke="#b0330a" stroke-width="1.7" fill="none"><rect x="1067" y="273.2" width="20.2" height="20.2"/></g>
<g font-family='"Liberation Serif", serif' font-weight="bold" fill="#000" stroke="#000" stroke-width="0.35" stroke-linejoin="round">
<text transform="translate(1014.3 128) scale(1.0000 1)" font-size="33.1" text-anchor="end" font-style="italic" >D<tspan font-size="25.16" dy="9.65">b</tspan><tspan font-size="25.16" dy="-25.3">x</tspan></text>
<text transform="translate(1014.1 170) scale(0.9550 1)" font-size="33.1" text-anchor="end"  >unpiped</text>
<text transform="translate(1014.1 211.4) scale(0.9550 1)" font-size="33.1" text-anchor="end"  >CPU</text>
<text transform="translate(1014.1 252.8) scale(0.9550 1)" font-size="33.1" text-anchor="end"  >GPU</text>
<text transform="translate(1014.1 294.2) scale(0.9550 1)" font-size="33.1" text-anchor="end"  >piped</text>
</g>
<clipPath id="ci1"><rect x="976.5" y="327.8" width="200.4" height="200.5"/></clipPath>
<g font-family='"Liberation Serif", serif' font-weight="bold" fill="#000" stroke="#000" stroke-width="0.35" stroke-linejoin="round">
<text transform="translate(966.9 335.9) scale(0.9450 1)" font-size="25.1" text-anchor="end"  >1</text>
<text transform="translate(966.9 405.03) scale(0.9450 1)" font-size="25.1" text-anchor="end"  >10<tspan font-size="20.08" dy="-11.8">−2</tspan></text>
<text transform="translate(966.9 471.87) scale(0.9450 1)" font-size="25.1" text-anchor="end"  >10<tspan font-size="20.08" dy="-11.8">−4</tspan></text>
<text transform="translate(966.9 538.7) scale(0.9450 1)" font-size="25.1" text-anchor="end"  >10<tspan font-size="20.08" dy="-11.8">−6</tspan></text>
<text transform="translate(1009.9 555.9) scale(0.9450 1)" font-size="25.1" text-anchor="middle"  >2</text>
<text transform="translate(1043.3 555.9) scale(0.9450 1)" font-size="25.1" text-anchor="middle"  >4</text>
<text transform="translate(1076.7 555.9) scale(0.9450 1)" font-size="25.1" text-anchor="middle"  >8</text>
<text transform="translate(1110.1 555.9) scale(0.9450 1)" font-size="25.1" text-anchor="middle"  >16</text>
<text transform="translate(1143.5 555.9) scale(0.9450 1)" font-size="25.1" text-anchor="middle"  >32</text>
<text transform="translate(1076.1 575.3) scale(1.0000 1)" font-size="24.22" text-anchor="middle" font-style="italic" >D<tspan font-size="19.38" dy="7">b</tspan></text>
<text transform="translate(915.3 428.05) rotate(-90) scale(0.9450 1)" font-size="25.1" text-anchor="middle"  ><tspan font-style="italic">T</tspan> (s)</text>
</g>
<g stroke="#bebebe" stroke-width="1.7" fill="none" stroke-dasharray="6.7 9.36"><path d="M976.5 487.7 L979.84 484.89 L983.18 482.08 L986.52 479.27 L989.86 476.46 L993.2 473.65 L996.54 470.84 L999.88 468.03 L1003.22 465.22 L1006.56 462.41 L1009.9 459.6 L1013.24 456.79 L1016.58 453.98 L1019.92 451.17 L1023.26 448.36 L1026.6 445.55 L1029.94 442.74 L1033.28 439.93 L1036.62 437.12 L1039.96 434.31 L1043.3 431.5 L1046.64 428.69 L1049.98 425.88 L1053.32 423.07 L1056.66 420.26 L1060 417.46 L1063.34 414.65 L1066.68 411.84 L1070.02 409.03 L1073.36 406.22 L1076.7 403.41 L1080.04 400.6 L1083.38 397.79 L1086.72 394.98 L1090.06 392.17 L1093.4 389.36 L1096.74 386.55 L1100.08 383.74 L1103.42 380.93 L1106.76 378.12 L1110.1 375.31 L1113.44 372.5 L1116.78 369.69 L1120.12 366.88 L1123.46 364.07 L1126.8 361.26 L1130.14 358.45 L1133.48 355.64 L1136.82 352.83 L1140.16 350.02 L1143.5 347.22 L1146.84 344.41 L1150.18 341.6 L1153.52 338.79 L1156.86 335.98 L1160.2 333.17 L1163.54 330.36 L1166.88 327.55 L1170.22 324.74 L1173.56 321.93 L1176.9 319.12" clip-path="url(#ci1)"/><path d="M976.5 517.39 L979.84 514.38 L983.18 511.36 L986.52 508.34 L989.86 505.32 L993.2 502.31 L996.54 499.29 L999.88 496.27 L1003.22 493.25 L1006.56 490.23 L1009.9 487.22 L1013.24 484.2 L1016.58 481.18 L1019.92 478.16 L1023.26 475.15 L1026.6 472.13 L1029.94 469.11 L1033.28 466.09 L1036.62 463.07 L1039.96 460.06 L1043.3 457.04 L1046.64 454.02 L1049.98 451 L1053.32 447.98 L1056.66 444.97 L1060 441.95 L1063.34 438.93 L1066.68 435.91 L1070.02 432.9 L1073.36 429.88 L1076.7 426.86 L1080.04 423.84 L1083.38 420.82 L1086.72 417.81 L1090.06 414.79 L1093.4 411.77 L1096.74 408.75 L1100.08 405.74 L1103.42 402.72 L1106.76 399.7 L1110.1 396.68 L1113.44 393.66 L1116.78 390.65 L1120.12 387.63 L1123.46 384.61 L1126.8 381.59 L1130.14 378.57 L1133.48 375.56 L1136.82 372.54 L1140.16 369.52 L1143.5 366.5 L1146.84 363.49 L1150.18 360.47 L1153.52 357.45 L1156.86 354.43 L1160.2 351.41 L1163.54 348.4 L1166.88 345.38 L1170.22 342.36 L1173.56 339.34 L1176.9 336.33" clip-path="url(#ci1)"/><path d="M976.5 517.67 L979.84 514.8 L983.18 511.94 L986.52 509.07 L989.86 506.2 L993.2 503.34 L996.54 500.47 L999.88 497.6 L1003.22 494.74 L1006.56 491.87 L1009.9 489 L1013.24 486.14 L1016.58 483.27 L1019.92 480.4 L1023.26 477.53 L1026.6 474.67 L1029.94 471.8 L1033.28 468.93 L1036.62 466.07 L1039.96 463.2 L1043.3 460.33 L1046.64 457.47 L1049.98 454.6 L1053.32 451.73 L1056.66 448.86 L1060 446 L1063.34 443.13 L1066.68 440.26 L1070.02 437.4 L1073.36 434.53 L1076.7 431.66 L1080.04 428.8 L1083.38 425.93 L1086.72 423.06 L1090.06 420.2 L1093.4 417.33 L1096.74 414.46 L1100.08 411.59 L1103.42 408.73 L1106.76 405.86 L1110.1 402.99 L1113.44 400.13 L1116.78 397.26 L1120.12 394.39 L1123.46 391.53 L1126.8 388.66 L1130.14 385.79 L1133.48 382.93 L1136.82 380.06 L1140.16 377.19 L1143.5 374.32 L1146.84 371.46 L1150.18 368.59 L1153.52 365.72 L1156.86 362.86 L1160.2 359.99 L1163.54 357.12 L1166.88 354.26 L1170.22 351.39 L1173.56 348.52 L1176.9 345.66" clip-path="url(#ci1)"/><path d="M976.5 433.5 L979.84 432.39 L983.18 431.29 L986.52 430.18 L989.86 429.07 L993.2 427.97 L996.54 426.86 L999.88 425.75 L1003.22 424.65 L1006.56 423.54 L1009.9 422.43 L1013.24 421.33 L1016.58 420.22 L1019.92 419.11 L1023.26 418.01 L1026.6 416.9 L1029.94 415.79 L1033.28 414.69 L1036.62 413.58 L1039.96 412.47 L1043.3 411.37 L1046.64 410.26 L1049.98 409.15 L1053.32 408.05 L1056.66 406.94 L1060 405.83 L1063.34 404.73 L1066.68 403.62 L1070.02 402.52 L1073.36 401.41 L1076.7 400.3 L1080.04 399.2 L1083.38 398.09 L1086.72 396.98 L1090.06 395.88 L1093.4 394.77 L1096.74 393.66 L1100.08 392.56 L1103.42 391.45 L1106.76 390.34 L1110.1 389.24 L1113.44 388.13 L1116.78 387.02 L1120.12 385.92 L1123.46 384.81 L1126.8 383.7 L1130.14 382.6 L1133.48 381.49 L1136.82 380.38 L1140.16 379.28 L1143.5 378.17 L1146.84 377.07 L1150.18 375.96 L1153.52 374.85 L1156.86 373.75 L1160.2 372.64 L1163.54 371.53 L1166.88 370.43 L1170.22 369.32 L1173.56 368.21 L1176.9 367.11" clip-path="url(#ci1)"/></g>
<g stroke="#424242" stroke-width="1.4" fill="none"><path d="M1029.44 433.47 L1023.04 443.84 L1035.84 443.84 Z"/><path d="M1029.44 434.64 V446.64"/><path d="M1023.44 440.64 H1035.44"/></g><g stroke="#424242" stroke-width="1.4" fill="none"><path d="M1043.3 422.9 L1036.9 433.27 L1049.7 433.27 Z"/><path d="M1043.3 424.07 V436.07"/><path d="M1037.3 430.07 H1049.3"/></g><g stroke="#424242" stroke-width="1.4" fill="none"><path d="M1054.05 413.53 L1047.65 423.89 L1060.45 423.89 Z"/><path d="M1054.05 414.69 V426.69"/><path d="M1048.05 420.69 H1060.05"/></g><g stroke="#424242" stroke-width="1.4" fill="none"><path d="M1062.84 407.58 L1056.44 417.95 L1069.24 417.95 Z"/><path d="M1062.84 408.75 V420.75"/><path d="M1056.84 414.75 H1068.84"/></g><g stroke="#424242" stroke-width="1.4" fill="none"><path d="M1070.27 402.29 L1063.87 412.66 L1076.67 412.66 Z"/><path d="M1070.27 403.46 V415.46"/><path d="M1064.27 409.46 H1076.27"/></g><g stroke="#424242" stroke-width="1.4" fill="none"><path d="M1076.7 397.52 L1070.3 407.89 L1083.1 407.89 Z"/><path d="M1076.7 398.69 V410.69"/><path d="M1070.7 404.69 H1082.7"/></g><g stroke="#424242" stroke-width="1.4" fill="none"><path d="M1082.38 390.89 L1075.98 401.25 L1088.78 401.25 Z"/><path d="M1082.38 392.05 V404.05"/><path d="M1076.38 398.05 H1088.38"/></g><g stroke="#424242" stroke-width="1.4" fill="none"><path d="M1087.45 386.9 L1081.05 397.26 L1093.85 397.26 Z"/><path d="M1087.45 388.06 V400.06"/><path d="M1081.45 394.06 H1093.45"/></g><g stroke="#424242" stroke-width="1.4" fill="none"><path d="M1106.99 370.32 L1100.59 380.68 L1113.39 380.68 Z"/><path d="M1106.99 371.48 V383.48"/><path d="M1100.99 377.09 H1112.99 M1100.99 377.89 H1112.99"/></g><g stroke="#424242" stroke-width="1.4" fill="none"><path d="M1120.85 358.9 L1114.45 369.26 L1127.25 369.26 Z"/><path d="M1120.85 360.06 V372.06"/><path d="M1114.85 366.06 H1126.85"/></g><g stroke="#424242" stroke-width="1.4" fill="none"><path d="M1140.39 342.21 L1133.99 352.58 L1146.79 352.58 Z"/><path d="M1140.39 343.38 V355.38"/><path d="M1134.39 349.38 H1146.39"/></g><g stroke="#0a47a8" stroke-width="1.4" fill="none"><circle cx="1029.44" cy="467.06" r="6.4"/><path d="M1029.44 459.19 V485.57"/><path d="M1023.44 459.19 H1035.44 M1023.44 485.57 H1035.44"/></g><g stroke="#0a47a8" stroke-width="1.4" fill="none"><circle cx="1043.3" cy="459.31" r="6.4"/><path d="M1043.3 453.31 V465.31"/><path d="M1037.3 459.31 H1049.3"/></g><g stroke="#0a47a8" stroke-width="1.4" fill="none"><circle cx="1054.05" cy="447.05" r="6.4"/><path d="M1054.05 441.05 V453.05"/><path d="M1048.05 447.05 H1060.05"/></g><g stroke="#0a47a8" stroke-width="1.4" fill="none"><circle cx="1062.84" cy="440.64" r="6.4"/><path d="M1062.84 434.64 V446.64"/><path d="M1056.84 440.64 H1068.84"/></g><g stroke="#0a47a8" stroke-width="1.4" fill="none"><circle cx="1070.27" cy="434.99" r="6.4"/><path d="M1070.27 428.99 V440.99"/><path d="M1064.27 434.99 H1076.27"/></g><g stroke="#0a47a8" stroke-width="1.4" fill="none"><circle cx="1076.7" cy="430.07" r="6.4"/><path d="M1076.7 424.07 V436.07"/><path d="M1070.7 430.07 H1082.7"/></g><g stroke="#0a47a8" stroke-width="1.4" fill="none"><circle cx="1082.38" cy="421.6" r="6.4"/><path d="M1082.38 415.6 V427.6"/><path d="M1076.38 421.6 H1088.38"/></g><g stroke="#0a47a8" stroke-width="1.4" fill="none"><circle cx="1087.45" cy="416.22" r="6.4"/><path d="M1087.45 410.22 V422.22"/><path d="M1081.45 416.22 H1093.45"/></g><g stroke="#0a47a8" stroke-width="1.4" fill="none"><circle cx="1106.99" cy="400.23" r="6.4"/><path d="M1106.99 394.23 V406.23"/><path d="M1100.99 399 H1112.99 M1100.99 401.57 H1112.99"/></g><g stroke="#0a47a8" stroke-width="1.4" fill="none"><circle cx="1120.85" cy="386.76" r="6.4"/><path d="M1120.85 380.76 V392.76"/><path d="M1114.85 386.27 H1126.85 M1114.85 387.28 H1126.85"/></g><g stroke="#0a47a8" stroke-width="1.4" fill="none"><circle cx="1140.39" cy="369.3" r="6.4"/><path d="M1140.39 363.3 V375.3"/><path d="M1134.39 369.3 H1146.39"/></g><g stroke="#ff8a1e" stroke-width="1.4" fill="none"><path d="M1029.44 409.37 L1023.04 415.77 L1029.44 422.17 L1035.84 415.77 Z"/><path d="M1029.44 409.77 V421.77"/><path d="M1023.44 415.77 H1035.44"/></g><g stroke="#ff8a1e" stroke-width="1.4" fill="none"><path d="M1043.3 404.46 L1036.9 410.86 L1043.3 417.26 L1049.7 410.86 Z"/><path d="M1043.3 404.86 V416.86"/><path d="M1037.3 410.86 H1049.3"/></g><g stroke="#ff8a1e" stroke-width="1.4" fill="none"><path d="M1054.05 401.03 L1047.65 407.43 L1054.05 413.83 L1060.45 407.43 Z"/><path d="M1054.05 401.43 V413.43"/><path d="M1048.05 407.43 H1060.05"/></g><g stroke="#ff8a1e" stroke-width="1.4" fill="none"><path d="M1062.84 398.29 L1056.44 404.69 L1062.84 411.09 L1069.24 404.69 Z"/><path d="M1062.84 398.69 V410.69"/><path d="M1056.84 404.69 H1068.84"/></g><g stroke="#ff8a1e" stroke-width="1.4" fill="none"><path d="M1070.27 395.89 L1063.87 402.29 L1070.27 408.69 L1076.67 402.29 Z"/><path d="M1070.27 396.29 V408.29"/><path d="M1064.27 402.29 H1076.27"/></g><g stroke="#ff8a1e" stroke-width="1.4" fill="none"><path d="M1076.7 393.83 L1070.3 400.23 L1076.7 406.63 L1083.1 400.23 Z"/><path d="M1076.7 394.23 V406.23"/><path d="M1070.7 400.23 H1082.7"/></g><g stroke="#ff8a1e" stroke-width="1.4" fill="none"><path d="M1082.38 391.47 L1075.98 397.87 L1082.38 404.27 L1088.78 397.87 Z"/><path d="M1082.38 391.87 V403.87"/><path d="M1076.38 397.87 H1088.38"/></g><g stroke="#ff8a1e" stroke-width="1.4" fill="none"><path d="M1087.45 389.29 L1081.05 395.69 L1087.45 402.09 L1093.85 395.69 Z"/><path d="M1087.45 389.69 V401.69"/><path d="M1081.45 395.69 H1093.45"/></g><g stroke="#ff8a1e" stroke-width="1.4" fill="none"><path d="M1106.99 383.56 L1100.59 389.96 L1106.99 396.36 L1113.39 389.96 Z"/><path d="M1106.99 383.96 V395.96"/><path d="M1100.99 389.96 H1112.99"/></g><g stroke="#ff8a1e" stroke-width="1.4" fill="none"><path d="M1120.85 379.31 L1114.45 385.71 L1120.85 392.11 L1127.25 385.71 Z"/><path d="M1120.85 379.71 V391.71"/><path d="M1114.85 385.71 H1126.85"/></g><g stroke="#ff8a1e" stroke-width="1.4" fill="none"><path d="M1140.39 373.03 L1133.99 379.43 L1140.39 385.83 L1146.79 379.43 Z"/><path d="M1140.39 373.43 V385.43"/><path d="M1134.39 379.43 H1146.39"/></g><g stroke="#b0330a" stroke-width="1.4" fill="none"><rect x="1023.04" y="454.5" width="12.8" height="12.8"/><path d="M1029.44 454.9 V466.9"/><path d="M1023.44 460.9 H1035.44"/></g><g stroke="#b0330a" stroke-width="1.4" fill="none"><rect x="1036.9" y="446.78" width="12.8" height="12.8"/><path d="M1043.3 447.18 V459.18"/><path d="M1037.3 453.18 H1049.3"/></g><g stroke="#b0330a" stroke-width="1.4" fill="none"><rect x="1047.65" y="439.61" width="12.8" height="12.8"/><path d="M1054.05 440.01 V452.01"/><path d="M1048.05 446.01 H1060.05"/></g><g stroke="#b0330a" stroke-width="1.4" fill="none"><rect x="1056.44" y="433.9" width="12.8" height="12.8"/><path d="M1062.84 434.3 V446.3"/><path d="M1056.84 440.3 H1068.84"/></g><g stroke="#b0330a" stroke-width="1.4" fill="none"><rect x="1063.87" y="428.36" width="12.8" height="12.8"/><path d="M1070.27 428.76 V440.76"/><path d="M1064.27 434.76 H1076.27"/></g><g stroke="#b0330a" stroke-width="1.4" fill="none"><rect x="1070.3" y="423.67" width="12.8" height="12.8"/><path d="M1076.7 424.07 V436.07"/><path d="M1070.7 430.07 H1082.7"/></g><g stroke="#b0330a" stroke-width="1.4" fill="none"><rect x="1075.98" y="419" width="12.8" height="12.8"/><path d="M1082.38 419.4 V431.4"/><path d="M1076.38 425.4 H1088.38"/></g><g stroke="#b0330a" stroke-width="1.4" fill="none"><rect x="1081.05" y="415.96" width="12.8" height="12.8"/><path d="M1087.45 416.36 V428.36"/><path d="M1081.45 422.36 H1093.45"/></g><g stroke="#b0330a" stroke-width="1.4" fill="none"><rect x="1100.59" y="399.82" width="12.8" height="12.8"/><path d="M1106.99 400.22 V412.22"/><path d="M1100.99 406.22 H1112.99"/></g><g stroke="#b0330a" stroke-width="1.4" fill="none"><rect x="1114.45" y="387.53" width="12.8" height="12.8"/><path d="M1120.85 387.93 V399.93"/><path d="M1114.85 393.93 H1126.85"/></g><g stroke="#b0330a" stroke-width="1.4" fill="none"><rect x="1133.99" y="370.6" width="12.8" height="12.8"/><path d="M1140.39 371 V383"/><path d="M1134.39 377 H1146.39"/></g>
<g stroke="#000" stroke-width="1.8" fill="none" stroke-linecap="butt"><path d="M1009.9 528.3 v-10.3 M1009.9 327.8 v10.3"/><path d="M1043.3 528.3 v-10.3 M1043.3 327.8 v10.3"/><path d="M1076.7 528.3 v-10.3 M1076.7 327.8 v10.3"/><path d="M1110.1 528.3 v-10.3 M1110.1 327.8 v10.3"/><path d="M1143.5 528.3 v-10.3 M1143.5 327.8 v10.3"/><path d="M976.5 327.8 h10.3 M1176.9 327.8 h-10.3"/><path d="M976.5 394.63 h10.3 M1176.9 394.63 h-10.3"/><path d="M976.5 461.47 h10.3 M1176.9 461.47 h-10.3"/><path d="M976.5 528.3 h10.3 M1176.9 528.3 h-10.3"/></g><rect x="976.5" y="327.8" width="200.4" height="200.5" fill="none" stroke="#000" stroke-width="2.9"/>
</svg>
</body></html>
